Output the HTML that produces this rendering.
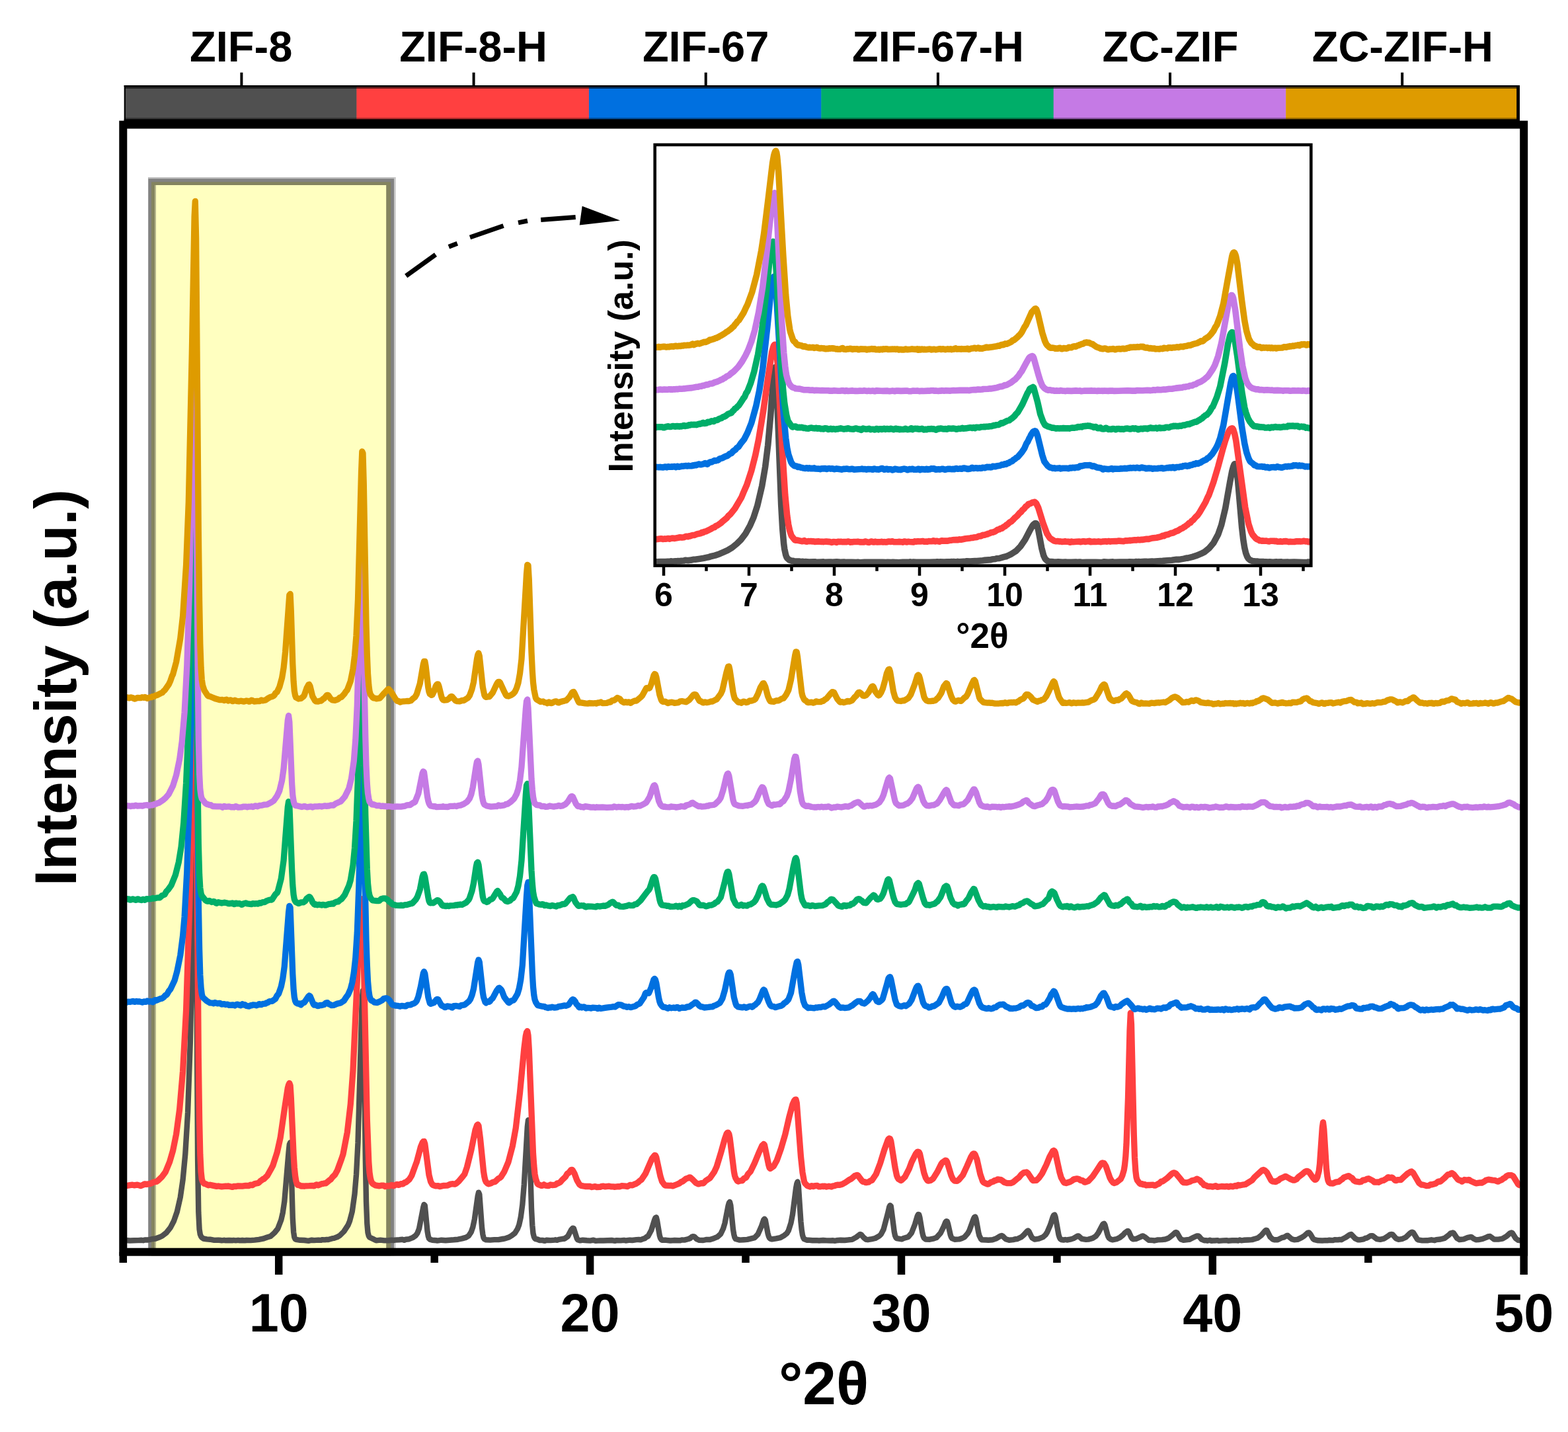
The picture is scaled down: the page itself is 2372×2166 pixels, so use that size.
<!DOCTYPE html>
<html lang="en"><head><meta charset="utf-8"><title>XRD patterns</title>
<style>html,body{margin:0;padding:0;background:#fff;width:2372px;height:2166px;overflow:hidden}svg{display:block}</style></head>
<body>
<svg width="2372" height="2166" viewBox="0 0 2372 2166" role="img" aria-label="XRD patterns of ZIF samples">
<rect x="0" y="0" width="2372" height="2166" fill="#fff"/>
<g id="highlight">
<rect x="224.2" y="268.2" width="372" height="1631" fill="#828282"/>
<rect x="596.2" y="268.2" width="2.4" height="1631" fill="#c4c4c4"/>
<rect x="224.2" y="268.2" width="374.4" height="2" fill="#c8c8c8"/>
<rect x="229" y="275.3" width="362.2" height="1624" fill="#84845F"/>
<rect x="234.4" y="280" width="349.8" height="1619" fill="#FFFFC0"/>
<rect x="234.4" y="280" width="1.6" height="1619" fill="#AEAE88"/>
</g>
<clipPath id="cm"><rect x="186.3" y="188.6" width="2114.8999999999996" height="1705.1000000000001"/></clipPath>
<g id="curves" clip-path="url(#cm)" fill="none" stroke-width="9.3" stroke-linejoin="round" stroke-linecap="butt">
<path stroke="#505050" stroke-width="8.4" d="M190.3,1876.0L196.6,1876.5L202.8,1876.2L209.1,1876.1L214.1,1875.8L216.6,1876.2L219.1,1875.4L224.1,1875.5L230.3,1874.2L235.3,1873.5L241.6,1871.2L245.3,1869.5L251.6,1864.7L257.8,1856.9L262.8,1847.3L267.8,1833.0L272.8,1810.9L276.6,1784.7L280.3,1745.5L284.1,1682.4L287.8,1577.0L290.3,1465.1L294.1,1154.2L295.3,1141.4L299.1,1753.6L300.3,1833.2L301.6,1859.4L302.8,1867.0L304.1,1870.1L305.3,1871.8L307.8,1873.5L312.8,1874.4L317.8,1874.7L324.1,1875.9L330.3,1875.8L334.1,1876.0L335.3,1876.4L339.1,1875.8L341.6,1876.3L346.6,1876.0L351.6,1876.3L352.8,1875.9L356.6,1876.4L360.3,1875.9L362.8,1876.4L366.6,1876.0L370.3,1876.4L372.8,1876.0L379.1,1876.1L385.3,1875.6L391.6,1874.8L397.8,1873.7L404.1,1871.6L409.1,1870.1L415.3,1864.7L420.3,1858.3L425.3,1845.2L427.8,1834.2L430.3,1817.2L436.6,1742.6L437.8,1731.2L439.1,1728.0L440.3,1755.2L442.8,1842.8L444.1,1863.5L445.3,1871.5L446.6,1874.2L447.8,1874.9L454.1,1875.8L460.3,1876.0L466.6,1876.8L471.6,1875.7L475.3,1876.1L481.6,1875.6L485.3,1875.9L487.8,1875.1L491.6,1875.4L494.1,1874.9L496.6,1875.0L502.8,1873.2L505.3,1872.9L510.3,1871.0L514.0,1868.9L520.3,1862.6L526.5,1853.1L529.0,1847.0L532.8,1832.5L536.5,1806.2L539.0,1776.5L541.5,1728.4L547.8,1509.3L549.0,1498.3L550.3,1552.8L552.8,1752.5L554.0,1817.6L555.3,1850.8L556.5,1864.4L557.8,1869.4L559.0,1871.5L565.3,1874.4L569.0,1876.3L575.3,1875.6L581.5,1876.4L587.8,1876.2L592.8,1875.7L595.3,1876.1L597.8,1875.6L604.0,1875.3L609.0,1874.8L611.5,1875.8L614.0,1874.7L619.0,1874.2L624.0,1872.2L629.0,1868.7L631.5,1865.1L634.0,1858.6L640.3,1826.0L641.5,1822.0L642.8,1823.4L646.5,1862.2L647.8,1869.7L649.0,1873.3L650.3,1874.6L654.0,1875.7L660.3,1876.3L661.5,1876.6L667.8,1875.7L674.0,1876.2L680.3,1875.7L686.5,1875.3L692.8,1874.7L699.0,1873.4L705.3,1871.6L709.0,1869.2L712.8,1863.4L715.3,1856.1L717.8,1844.4L722.8,1808.7L724.0,1803.6L725.3,1806.4L729.0,1856.5L730.3,1866.8L731.5,1872.2L732.8,1874.2L735.3,1875.3L741.5,1875.6L747.8,1875.1L754.0,1875.1L760.3,1874.0L764.0,1873.4L770.3,1871.2L774.0,1869.0L779.0,1865.1L782.8,1858.9L785.3,1852.4L787.8,1841.0L790.3,1822.3L792.8,1791.8L797.8,1704.2L799.0,1694.2L800.3,1703.9L804.0,1828.5L805.3,1853.3L806.5,1865.6L807.8,1870.8L809.0,1873.1L810.3,1874.1L812.8,1874.5L816.5,1876.0L821.5,1876.0L822.8,1876.7L824.0,1876.9L826.5,1875.8L832.8,1876.1L839.0,1875.6L840.3,1875.3L842.8,1875.8L845.3,1874.9L851.5,1873.8L854.0,1873.7L859.0,1870.0L864.0,1860.4L866.5,1857.6L867.8,1857.8L872.8,1873.6L874.0,1875.2L877.8,1876.4L881.5,1875.7L887.8,1876.3L892.8,1876.6L897.8,1875.7L901.5,1876.9L907.8,1876.4L912.8,1876.5L919.0,1876.3L925.3,1876.0L930.3,1876.8L932.8,1876.2L939.0,1876.4L944.0,1875.9L946.5,1876.5L952.8,1875.7L956.5,1876.0L962.8,1875.1L966.5,1875.0L969.0,1875.4L972.8,1873.8L975.3,1873.2L977.8,1871.1L980.3,1869.9L985.3,1860.8L990.3,1844.6L991.5,1841.8L992.8,1841.3L994.0,1846.0L997.8,1868.7L999.0,1872.8L1000.3,1874.9L1001.5,1875.7L1007.8,1875.8L1014.0,1876.5L1020.3,1876.0L1026.5,1876.2L1029.0,1876.3L1031.5,1875.4L1035.3,1875.6L1041.5,1874.0L1044.0,1873.0L1046.5,1870.8L1047.8,1870.2L1050.3,1870.4L1054.0,1874.2L1057.8,1875.8L1064.0,1876.0L1069.0,1874.9L1074.0,1875.0L1080.3,1872.9L1085.3,1870.9L1090.3,1866.3L1094.0,1858.5L1096.5,1850.1L1101.5,1824.2L1102.8,1819.6L1104.0,1818.0L1105.3,1823.0L1109.0,1859.6L1110.3,1867.3L1111.5,1871.9L1112.8,1874.0L1119.0,1875.6L1125.3,1875.2L1130.3,1874.9L1136.5,1873.4L1141.5,1872.2L1146.5,1867.0L1151.5,1855.8L1155.3,1844.9L1156.5,1843.7L1157.8,1845.5L1161.5,1865.3L1162.8,1870.0L1164.0,1872.5L1165.3,1873.7L1167.8,1874.4L1174.0,1873.4L1180.3,1872.2L1186.5,1868.6L1190.3,1865.5L1192.8,1861.4L1196.5,1849.8L1199.0,1836.9L1204.0,1797.6L1205.3,1790.5L1206.5,1787.5L1207.8,1793.1L1211.5,1848.1L1212.8,1860.7L1214.0,1868.2L1215.3,1872.3L1216.5,1874.2L1220.3,1875.7L1222.8,1875.6L1229.0,1876.2L1235.3,1876.1L1239.0,1876.5L1245.3,1876.0L1250.3,1876.4L1256.5,1876.5L1260.3,1876.3L1262.8,1876.8L1265.3,1876.3L1271.5,1875.8L1277.8,1876.0L1284.0,1875.3L1289.0,1874.9L1295.3,1871.4L1300.3,1867.5L1301.5,1867.0L1302.8,1867.4L1306.5,1871.9L1310.3,1874.9L1312.8,1875.2L1319.0,1874.1L1324.0,1873.0L1330.3,1869.4L1332.8,1866.9L1336.5,1859.8L1342.8,1836.2L1345.3,1825.5L1346.5,1823.2L1347.8,1824.5L1352.8,1863.2L1354.0,1868.8L1355.3,1871.8L1356.5,1873.1L1362.8,1874.2L1364.0,1874.4L1367.8,1872.7L1374.0,1870.9L1379.0,1864.8L1384.0,1852.0L1387.8,1839.2L1389.0,1837.0L1390.3,1837.2L1391.5,1841.9L1395.3,1864.6L1396.5,1869.5L1397.8,1872.5L1400.3,1874.6L1406.5,1874.7L1412.8,1873.3L1416.5,1872.1L1422.8,1865.1L1427.8,1854.8L1430.3,1848.7L1431.5,1847.2L1432.8,1847.4L1434.0,1851.0L1437.8,1868.0L1439.0,1871.4L1440.3,1873.2L1444.0,1874.7L1450.3,1874.4L1451.5,1874.3L1455.3,1873.0L1459.0,1871.3L1464.0,1865.6L1466.5,1861.0L1472.8,1843.4L1474.0,1841.1L1475.3,1840.4L1476.5,1843.7L1480.3,1864.4L1481.5,1869.2L1484.0,1874.1L1485.3,1875.2L1491.5,1875.5L1495.3,1875.8L1501.5,1875.2L1506.5,1873.6L1512.8,1869.8L1515.3,1869.0L1516.5,1869.4L1521.5,1874.2L1526.5,1875.7L1532.8,1875.1L1536.5,1874.2L1539.0,1874.0L1545.3,1871.0L1549.0,1867.6L1554.0,1862.0L1555.3,1861.4L1556.5,1862.6L1560.3,1870.5L1561.5,1872.3L1565.3,1874.6L1571.5,1873.6L1577.8,1871.1L1581.5,1867.9L1584.0,1864.1L1589.0,1852.5L1592.8,1840.6L1594.0,1838.3L1595.3,1837.4L1596.5,1840.3L1601.5,1867.8L1602.8,1871.8L1604.0,1874.0L1605.3,1875.0L1609.0,1875.6L1611.5,1875.0L1614.0,1875.5L1620.3,1874.4L1624.0,1873.1L1630.3,1869.4L1631.5,1869.4L1636.5,1873.9L1642.8,1874.9L1646.5,1874.6L1652.8,1872.9L1657.8,1869.7L1661.5,1864.8L1667.8,1852.7L1669.0,1851.2L1670.3,1850.8L1671.5,1852.9L1675.3,1867.2L1676.5,1870.6L1677.8,1872.7L1680.3,1874.5L1682.8,1875.3L1689.0,1874.2L1694.0,1871.9L1699.0,1867.9L1701.5,1864.9L1705.3,1862.2L1706.5,1862.0L1707.8,1863.8L1711.5,1871.9L1712.8,1873.5L1714.0,1874.3L1719.0,1873.8L1725.3,1870.9L1727.8,1869.6L1729.0,1869.4L1731.5,1870.8L1737.8,1875.8L1744.0,1876.1L1746.5,1876.5L1751.5,1875.4L1757.8,1875.1L1762.8,1874.5L1767.8,1872.7L1774.0,1867.9L1777.8,1864.4L1779.0,1864.0L1780.3,1864.4L1785.3,1873.1L1786.5,1874.5L1790.3,1875.9L1796.5,1875.1L1799.0,1874.9L1805.3,1871.8L1810.3,1869.5L1812.8,1869.4L1814.0,1870.3L1817.8,1874.7L1821.5,1876.2L1824.0,1876.1L1826.5,1876.7L1830.3,1875.7L1832.8,1876.9L1835.3,1876.5L1837.8,1876.5L1841.5,1876.1L1844.0,1876.9L1850.3,1876.4L1855.3,1876.2L1857.8,1876.7L1864.0,1876.3L1870.3,1876.1L1872.8,1876.6L1875.3,1875.5L1877.8,1876.3L1881.5,1875.8L1887.8,1875.5L1894.0,1875.1L1900.3,1873.3L1902.8,1872.5L1907.8,1868.7L1914.0,1861.5L1915.3,1860.7L1916.5,1861.1L1921.5,1871.0L1925.3,1874.5L1927.8,1875.3L1932.8,1875.2L1939.0,1872.2L1942.8,1871.3L1946.5,1869.0L1947.8,1868.8L1954.0,1874.1L1957.8,1875.2L1962.8,1874.9L1969.0,1871.9L1972.8,1869.5L1977.8,1865.0L1979.0,1864.4L1980.3,1864.5L1982.8,1867.5L1986.5,1873.9L1987.8,1874.8L1994.0,1876.3L2000.3,1876.5L2005.3,1876.1L2007.8,1876.4L2010.3,1875.8L2016.5,1876.1L2019.0,1875.2L2024.0,1875.4L2026.5,1874.9L2029.0,1875.2L2035.3,1871.9L2041.5,1867.8L2044.0,1867.0L2050.3,1873.5L2054.1,1875.2L2056.6,1875.4L2062.8,1874.3L2065.3,1872.9L2067.8,1872.5L2072.8,1869.5L2075.3,1869.1L2076.6,1869.4L2082.8,1874.1L2087.8,1874.8L2094.1,1873.3L2100.3,1869.3L2102.8,1867.3L2105.3,1866.9L2106.6,1867.3L2111.6,1873.1L2115.3,1874.8L2121.6,1873.8L2126.6,1871.5L2132.8,1865.5L2135.3,1863.9L2136.6,1863.7L2137.8,1864.3L2144.1,1874.5L2145.3,1875.3L2151.6,1876.4L2157.8,1876.1L2160.3,1876.2L2165.3,1875.3L2170.3,1876.2L2172.8,1875.2L2179.1,1874.5L2185.3,1872.9L2191.6,1868.2L2194.1,1865.6L2197.8,1864.5L2199.1,1865.2L2204.1,1872.9L2207.8,1875.0L2214.1,1874.3L2220.3,1871.8L2225.3,1871.0L2226.6,1871.5L2229.1,1873.5L2232.8,1875.3L2236.6,1875.1L2242.8,1873.9L2249.1,1871.4L2251.6,1870.1L2254.1,1870.0L2260.3,1874.6L2266.6,1874.6L2272.8,1873.7L2279.1,1869.9L2284.1,1865.4L2286.6,1864.5L2287.8,1865.1L2292.8,1873.1L2296.6,1875.8L2300.3,1876.4"/>
<path stroke="#FF4040" d="M190.3,1793.8L196.6,1792.6L200.3,1792.2L202.8,1792.8L207.8,1792.1L212.8,1793.6L216.6,1792.2L217.8,1791.2L219.1,1790.9L221.6,1791.4L227.8,1790.3L232.8,1788.0L236.6,1787.3L239.1,1785.6L245.3,1779.6L250.3,1772.7L256.6,1757.5L261.6,1740.4L266.6,1715.7L271.6,1678.4L276.6,1620.3L281.6,1528.0L286.6,1372.2L292.8,1076.7L294.1,1040.1L295.3,1041.0L296.6,1132.5L300.3,1599.9L301.6,1693.2L302.8,1746.3L304.1,1772.5L305.3,1783.4L306.6,1787.2L307.8,1789.3L309.1,1790.4L310.3,1790.5L315.3,1792.8L317.8,1792.2L324.1,1793.6L327.8,1794.4L330.3,1794.0L335.3,1794.8L341.6,1794.1L344.1,1794.3L345.3,1793.9L351.6,1795.4L354.1,1794.3L356.6,1794.6L360.3,1793.8L366.6,1794.2L371.6,1793.4L376.6,1793.5L379.1,1792.1L380.3,1792.6L381.6,1792.6L385.3,1790.5L390.3,1789.5L391.6,1788.9L394.1,1786.3L395.3,1785.6L397.8,1783.5L399.1,1783.5L402.8,1779.7L404.1,1778.8L410.3,1767.7L412.8,1763.0L419.1,1743.4L424.1,1721.1L430.3,1678.2L435.3,1645.7L436.6,1641.0L437.8,1638.5L439.1,1641.9L440.3,1660.9L444.1,1746.4L445.3,1765.9L446.6,1778.5L447.8,1786.0L449.1,1790.4L450.3,1792.3L452.8,1792.6L455.3,1794.0L457.8,1793.8L460.3,1794.3L462.8,1793.8L467.8,1793.7L472.8,1793.3L474.1,1793.9L475.3,1793.7L477.8,1792.2L479.1,1791.9L481.6,1792.8L486.6,1790.7L489.1,1790.4L490.3,1789.8L492.8,1789.8L499.1,1784.7L500.3,1784.1L502.8,1780.6L506.6,1776.9L510.3,1770.3L516.5,1753.4L519.0,1745.9L525.3,1712.9L530.3,1670.0L534.0,1619.4L540.3,1483.5L544.0,1391.9L545.3,1370.8L546.5,1359.6L547.8,1361.4L549.0,1391.0L555.3,1693.2L557.8,1757.6L559.0,1773.5L560.3,1782.0L561.5,1786.4L562.8,1789.2L564.0,1790.5L567.8,1792.9L574.0,1793.8L576.5,1793.2L580.3,1793.2L582.8,1794.6L586.5,1793.6L589.0,1793.8L592.8,1792.3L595.3,1793.7L600.3,1791.4L601.5,1791.6L602.8,1792.3L604.0,1792.2L606.5,1790.6L609.0,1791.0L610.3,1790.3L611.5,1789.0L612.8,1788.3L614.0,1788.3L619.0,1784.2L622.8,1778.1L629.0,1761.0L630.3,1757.7L636.5,1734.5L639.0,1728.4L640.3,1726.7L641.5,1726.5L642.8,1730.3L649.0,1777.3L651.5,1787.2L654.0,1791.7L655.3,1792.6L659.0,1793.9L662.8,1793.6L665.3,1794.6L671.5,1793.3L676.5,1793.2L681.5,1791.1L685.3,1790.7L687.8,1791.2L690.3,1790.0L694.0,1786.8L700.3,1779.3L702.8,1776.0L706.5,1765.2L712.8,1739.9L719.0,1709.3L721.5,1702.2L722.8,1700.8L724.0,1702.8L726.5,1722.1L731.5,1771.7L732.8,1779.9L734.0,1785.0L735.3,1787.7L737.8,1790.3L739.0,1790.8L742.8,1789.7L745.3,1788.2L749.0,1787.4L754.0,1782.6L756.5,1781.4L757.8,1780.2L762.8,1772.2L769.0,1757.6L775.3,1733.6L780.3,1706.0L786.5,1652.6L792.8,1586.7L795.3,1566.7L796.5,1561.5L797.8,1559.7L799.0,1566.1L800.3,1587.2L806.5,1744.6L807.8,1763.3L809.0,1775.5L810.3,1782.5L812.8,1790.1L814.0,1791.4L819.0,1793.4L820.3,1793.4L822.8,1791.8L825.3,1793.2L829.0,1793.7L830.3,1793.4L832.8,1792.0L835.3,1792.6L840.3,1792.2L842.8,1789.9L844.0,1790.1L847.8,1787.9L850.3,1784.8L855.3,1780.2L857.8,1775.8L859.0,1774.6L860.3,1774.2L864.0,1769.5L865.3,1769.3L866.5,1770.4L869.0,1774.9L872.8,1785.1L876.5,1791.5L879.0,1793.4L885.3,1794.5L891.5,1794.3L895.3,1795.5L900.3,1794.6L902.8,1795.5L907.8,1795.4L910.3,1794.3L912.8,1794.1L915.3,1794.9L921.5,1794.2L924.0,1794.8L927.8,1794.8L929.0,1795.3L935.3,1794.6L937.8,1794.8L940.3,1793.7L946.5,1794.2L949.0,1794.6L952.8,1792.6L954.0,1792.3L956.5,1792.9L960.3,1791.0L961.5,1790.9L965.3,1788.4L967.8,1786.0L970.3,1784.3L976.5,1775.2L982.8,1760.5L986.5,1752.1L990.3,1747.5L991.5,1747.6L992.8,1750.5L999.0,1779.2L1001.5,1787.1L1005.3,1792.4L1006.5,1793.0L1012.8,1793.3L1015.3,1793.2L1017.8,1793.9L1024.0,1791.5L1027.8,1789.9L1030.3,1787.9L1032.8,1786.9L1037.8,1782.9L1041.5,1781.8L1042.8,1781.0L1044.0,1780.9L1047.8,1784.1L1052.8,1789.3L1056.5,1790.9L1061.5,1789.6L1064.0,1789.9L1067.8,1785.9L1074.0,1781.9L1080.3,1772.9L1084.0,1765.1L1090.3,1744.4L1096.5,1722.2L1099.0,1715.2L1100.3,1713.3L1101.5,1713.1L1102.8,1715.3L1104.0,1720.9L1110.3,1771.8L1111.5,1778.2L1112.8,1781.9L1115.3,1786.2L1116.5,1787.0L1120.3,1785.9L1122.8,1785.8L1125.3,1782.6L1126.5,1781.8L1127.8,1781.8L1129.0,1780.6L1131.5,1776.0L1135.3,1772.1L1141.5,1759.2L1147.8,1743.9L1152.8,1732.9L1155.3,1730.5L1156.5,1732.0L1162.8,1762.2L1164.0,1766.3L1165.3,1767.5L1170.3,1763.9L1175.3,1754.9L1181.5,1737.4L1187.8,1715.9L1194.0,1688.9L1199.0,1670.4L1201.5,1664.8L1202.8,1663.4L1204.0,1663.2L1205.3,1668.4L1211.5,1749.8L1214.0,1773.3L1216.5,1787.0L1217.8,1790.0L1221.5,1793.6L1225.3,1795.0L1227.8,1793.6L1230.3,1794.5L1232.8,1793.7L1236.5,1793.4L1239.0,1794.9L1241.5,1794.8L1244.0,1794.2L1245.3,1794.6L1247.8,1794.1L1250.3,1795.0L1254.0,1794.2L1257.8,1795.0L1260.3,1793.8L1262.8,1793.6L1264.0,1792.9L1267.8,1792.1L1270.3,1792.3L1274.0,1791.3L1279.0,1788.5L1285.3,1784.2L1287.8,1783.0L1292.8,1778.7L1296.5,1777.3L1297.8,1777.9L1304.0,1786.1L1305.3,1787.3L1307.8,1787.6L1309.0,1788.4L1310.3,1788.7L1312.8,1788.0L1314.0,1788.2L1316.5,1786.2L1319.0,1785.3L1325.3,1776.0L1331.5,1759.7L1337.8,1739.1L1342.8,1725.2L1344.0,1722.9L1345.3,1721.9L1346.5,1722.6L1347.8,1726.1L1354.0,1765.7L1356.5,1777.9L1357.8,1781.2L1359.0,1783.2L1362.8,1785.5L1364.0,1784.9L1369.0,1780.1L1375.3,1767.8L1379.0,1757.9L1385.3,1745.2L1387.8,1742.3L1389.0,1742.1L1390.3,1742.7L1391.5,1745.2L1397.8,1774.0L1400.3,1781.3L1402.8,1785.4L1404.0,1786.2L1407.8,1785.4L1411.5,1782.9L1417.8,1772.8L1424.0,1760.4L1425.3,1758.6L1430.3,1755.2L1431.5,1755.5L1432.8,1757.6L1439.0,1778.1L1441.5,1783.5L1444.0,1786.1L1447.8,1786.3L1450.3,1784.7L1456.5,1777.5L1462.8,1763.9L1469.0,1749.6L1471.5,1745.6L1472.8,1745.0L1474.0,1745.2L1475.3,1746.8L1477.8,1753.3L1482.8,1775.8L1486.5,1786.6L1487.8,1788.4L1490.3,1789.7L1494.0,1791.1L1495.3,1790.9L1499.0,1788.3L1502.8,1787.1L1504.0,1785.9L1505.3,1785.4L1506.5,1785.6L1509.0,1784.0L1510.3,1783.9L1511.5,1784.4L1514.0,1784.5L1517.8,1787.0L1519.0,1788.3L1524.0,1789.7L1529.0,1789.6L1532.8,1788.1L1539.0,1782.7L1541.5,1780.9L1545.3,1776.2L1549.0,1773.5L1552.8,1773.0L1555.3,1775.0L1561.5,1784.3L1562.8,1785.5L1567.8,1785.3L1571.5,1781.9L1576.5,1774.9L1582.8,1762.0L1587.8,1749.8L1592.8,1740.9L1594.0,1740.3L1595.3,1741.1L1596.5,1743.7L1602.8,1772.6L1605.3,1781.3L1609.0,1787.8L1610.3,1789.0L1612.8,1789.5L1619.0,1787.5L1622.8,1785.3L1624.0,1783.9L1625.3,1783.5L1626.5,1783.6L1629.0,1782.8L1632.8,1783.8L1634.0,1785.0L1635.3,1785.6L1636.5,1785.3L1637.8,1785.5L1640.3,1787.9L1641.5,1788.2L1646.5,1786.3L1652.8,1779.6L1659.0,1770.5L1665.3,1760.9L1666.5,1759.4L1667.8,1759.0L1670.3,1759.6L1672.8,1763.6L1679.0,1781.5L1681.5,1786.0L1684.0,1788.8L1685.3,1789.5L1689.0,1788.3L1695.3,1783.4L1697.8,1778.3L1700.3,1769.7L1701.5,1762.1L1702.8,1749.6L1704.0,1730.3L1706.5,1660.9L1709.0,1559.5L1710.3,1532.2L1711.5,1549.0L1715.3,1716.1L1716.5,1750.7L1717.8,1770.7L1719.0,1780.7L1720.3,1785.1L1724.0,1789.9L1725.3,1790.9L1727.8,1790.6L1729.0,1791.6L1730.3,1791.8L1731.5,1791.5L1734.0,1792.8L1736.5,1792.4L1739.0,1792.5L1744.0,1792.1L1746.5,1793.2L1747.8,1793.1L1751.5,1790.9L1752.8,1790.6L1754.0,1789.8L1756.5,1787.2L1759.0,1786.8L1765.3,1782.3L1771.5,1776.5L1772.8,1775.2L1775.3,1774.0L1776.5,1774.0L1779.0,1775.2L1784.0,1781.2L1789.0,1787.5L1790.3,1788.5L1795.3,1788.9L1800.3,1787.4L1802.8,1785.8L1807.8,1784.7L1810.3,1783.2L1811.5,1783.4L1815.3,1785.6L1817.8,1788.9L1819.0,1789.3L1821.5,1792.6L1824.0,1792.9L1826.5,1794.3L1829.0,1794.5L1831.5,1794.3L1834.0,1795.2L1839.0,1793.7L1841.5,1795.4L1847.8,1794.5L1854.0,1794.9L1855.3,1794.3L1856.5,1794.3L1857.8,1795.0L1859.0,1795.0L1861.5,1794.2L1865.3,1794.8L1867.8,1793.6L1869.0,1793.5L1870.3,1794.2L1871.5,1793.9L1872.8,1792.5L1874.0,1792.4L1875.3,1793.0L1881.5,1791.8L1884.0,1791.5L1890.3,1787.5L1894.0,1785.3L1897.8,1780.6L1904.0,1775.0L1909.0,1770.3L1911.5,1769.5L1912.8,1770.0L1916.5,1773.4L1922.8,1785.1L1924.0,1786.4L1925.3,1787.0L1927.8,1786.9L1929.0,1787.5L1930.3,1787.4L1932.8,1785.7L1934.0,1785.4L1936.5,1783.0L1942.8,1780.2L1944.0,1779.5L1945.3,1779.5L1951.5,1783.1L1956.5,1785.2L1957.8,1785.2L1961.5,1783.5L1964.0,1780.4L1970.3,1775.7L1974.0,1772.4L1976.5,1771.5L1977.8,1771.5L1980.3,1772.8L1986.5,1781.9L1989.0,1784.3L1990.3,1784.3L1991.5,1783.0L1992.8,1780.5L1995.3,1770.8L1996.5,1760.6L2000.3,1705.7L2001.5,1697.7L2002.8,1707.8L2006.5,1767.5L2007.8,1778.8L2009.0,1785.4L2010.3,1788.4L2012.8,1789.9L2016.5,1790.0L2020.3,1788.2L2025.3,1787.4L2029.0,1784.4L2030.3,1783.8L2032.8,1781.1L2039.0,1778.8L2040.3,1778.7L2041.5,1779.3L2042.8,1780.7L2045.3,1781.8L2047.8,1785.3L2050.3,1786.9L2056.6,1787.9L2059.1,1787.5L2061.6,1785.3L2062.8,1784.8L2064.1,1785.2L2065.3,1784.8L2067.8,1783.3L2070.3,1782.7L2076.6,1785.8L2079.1,1788.2L2084.1,1788.0L2085.3,1788.3L2090.3,1785.8L2092.8,1785.5L2097.8,1782.5L2099.1,1781.1L2100.3,1780.6L2102.8,1781.5L2105.3,1780.9L2106.6,1781.5L2110.3,1785.2L2111.6,1785.6L2112.8,1785.4L2114.1,1784.6L2119.1,1784.5L2125.3,1778.7L2129.1,1775.3L2134.1,1772.3L2135.3,1772.0L2137.8,1774.1L2144.1,1784.9L2146.6,1789.3L2150.3,1792.1L2152.8,1792.1L2157.8,1793.6L2161.6,1793.3L2164.1,1791.7L2165.3,1791.9L2171.6,1790.3L2175.3,1787.4L2176.6,1787.0L2177.8,1787.4L2179.1,1787.0L2185.3,1781.8L2190.3,1776.6L2192.8,1776.3L2195.3,1774.7L2196.6,1774.4L2199.1,1776.2L2205.3,1783.9L2206.6,1784.9L2209.1,1785.4L2211.6,1787.1L2215.3,1784.5L2220.3,1785.2L2221.6,1784.5L2222.8,1784.7L2224.1,1785.9L2230.3,1788.7L2232.8,1789.9L2239.1,1788.8L2241.6,1789.0L2245.3,1787.1L2247.8,1785.2L2251.6,1784.1L2257.8,1785.2L2261.6,1785.4L2265.3,1787.0L2266.6,1787.0L2269.1,1785.4L2271.6,1784.7L2274.1,1782.6L2276.6,1781.3L2279.1,1778.9L2281.6,1777.7L2286.6,1777.7L2289.1,1779.1L2295.3,1789.1L2296.6,1791.2L2297.8,1792.2L2300.3,1792.9"/>
<path stroke="#0070E0" d="M190.3,1516.0L191.6,1516.1L194.1,1515.2L196.6,1515.5L201.6,1514.3L202.8,1515.1L204.1,1515.3L206.6,1514.5L209.1,1515.2L210.3,1514.7L215.3,1516.1L217.8,1514.8L220.3,1515.4L222.8,1513.9L225.3,1515.2L227.8,1514.5L229.1,1514.7L230.3,1515.6L231.6,1515.8L234.1,1512.9L235.3,1512.7L236.6,1513.3L242.8,1510.6L245.3,1510.1L247.8,1508.3L250.3,1505.4L251.6,1505.0L252.8,1503.8L255.3,1499.3L257.8,1496.3L264.1,1482.9L267.8,1469.6L272.8,1444.8L276.6,1415.4L279.1,1387.1L282.8,1318.7L286.6,1200.4L290.3,994.2L292.8,817.0L294.1,775.9L295.3,821.2L300.3,1363.7L301.6,1435.0L302.8,1474.7L304.1,1494.1L305.3,1503.8L306.6,1508.4L312.8,1514.0L317.8,1516.9L321.6,1517.1L322.8,1517.8L325.3,1516.5L329.1,1517.9L331.6,1517.4L332.8,1517.5L335.3,1519.1L339.1,1518.6L341.6,1519.5L344.1,1519.1L346.6,1520.4L352.8,1520.0L355.3,1521.0L357.8,1519.3L359.1,1519.2L364.1,1520.8L366.6,1518.8L367.8,1519.7L369.1,1520.0L370.3,1519.6L372.8,1521.4L376.6,1522.1L379.1,1520.7L380.3,1520.9L382.8,1519.9L385.3,1520.1L387.8,1520.8L390.3,1519.9L391.6,1518.9L392.8,1518.7L394.1,1519.6L395.3,1519.7L397.8,1518.4L401.6,1518.1L402.8,1517.1L405.3,1516.5L406.6,1515.2L407.8,1514.6L411.6,1514.3L416.6,1510.9L419.1,1505.9L421.6,1502.9L425.3,1492.3L427.8,1480.1L430.3,1461.7L436.6,1379.9L437.8,1370.4L439.1,1372.7L442.8,1473.3L444.1,1496.3L445.3,1508.3L446.6,1514.0L447.8,1516.5L450.3,1518.1L452.8,1517.9L454.1,1519.3L455.3,1519.9L457.8,1517.2L460.3,1516.3L466.6,1507.2L467.8,1506.1L469.1,1506.8L474.1,1518.7L475.3,1520.1L477.8,1520.0L480.3,1521.5L482.8,1521.3L484.1,1520.4L486.6,1520.5L490.3,1519.5L492.8,1517.2L494.1,1516.6L495.3,1516.7L497.8,1519.0L499.1,1519.2L501.6,1520.7L505.3,1520.3L510.3,1518.1L515.3,1517.0L520.3,1513.6L524.0,1507.9L526.5,1504.7L530.3,1495.9L532.8,1486.1L535.3,1471.4L537.8,1448.7L540.3,1410.3L542.8,1342.4L546.5,1186.6L547.8,1162.9L549.0,1180.3L554.0,1421.6L555.3,1459.3L556.5,1484.1L557.8,1498.6L559.0,1506.6L560.3,1510.7L561.5,1512.9L562.8,1514.0L564.0,1514.0L566.5,1516.2L570.3,1516.6L574.0,1515.1L577.8,1513.2L580.3,1510.6L584.0,1509.8L586.5,1510.6L589.0,1512.7L592.8,1518.7L594.0,1519.9L597.8,1521.0L601.5,1521.3L605.3,1522.3L607.8,1521.3L612.8,1522.0L614.0,1521.8L616.5,1520.1L621.5,1519.8L624.0,1518.4L626.5,1517.8L629.0,1515.7L630.3,1514.0L632.8,1507.6L636.5,1492.1L640.3,1472.3L641.5,1469.7L642.8,1472.8L647.8,1508.2L650.3,1517.2L651.5,1518.3L656.5,1516.6L660.3,1511.8L661.5,1511.4L662.8,1511.9L667.8,1520.7L671.5,1522.5L672.8,1523.5L674.0,1523.6L676.5,1521.8L681.5,1522.7L682.8,1523.8L684.0,1524.1L686.5,1521.6L690.3,1521.5L695.3,1522.4L697.8,1520.6L702.8,1519.8L709.0,1514.9L711.5,1511.5L714.0,1505.3L716.5,1495.5L722.8,1455.3L724.0,1451.8L725.3,1455.4L730.3,1501.3L731.5,1508.3L734.0,1515.8L735.3,1516.9L737.8,1514.9L740.3,1515.3L741.5,1514.1L742.8,1512.0L745.3,1509.9L751.5,1498.3L754.0,1494.9L755.3,1494.2L757.8,1496.4L759.0,1498.3L762.8,1508.1L769.0,1516.3L770.3,1516.7L774.0,1513.7L776.5,1513.1L777.8,1511.8L782.8,1503.4L785.3,1495.1L787.8,1481.7L790.3,1459.7L796.5,1355.8L797.8,1339.1L799.0,1334.3L800.3,1347.7L805.3,1471.6L806.5,1492.2L807.8,1505.2L809.0,1511.8L810.3,1515.5L812.8,1519.7L814.0,1520.8L820.3,1522.2L824.0,1522.7L825.3,1523.6L829.0,1524.6L831.5,1523.8L832.8,1524.0L835.3,1523.1L839.0,1524.2L842.8,1523.6L845.3,1522.3L847.8,1522.2L854.0,1520.9L856.5,1521.3L860.3,1519.7L865.3,1512.5L866.5,1511.7L867.8,1512.1L870.3,1515.0L871.5,1517.9L872.8,1519.6L874.0,1520.4L875.3,1522.7L876.5,1523.8L877.8,1522.9L879.0,1523.0L880.3,1524.0L882.8,1523.0L884.0,1523.1L886.5,1525.1L889.0,1524.3L892.8,1524.6L894.0,1525.1L896.5,1524.1L902.8,1524.6L904.0,1525.6L905.3,1525.4L906.5,1524.3L909.0,1525.5L915.3,1524.4L919.0,1523.8L925.3,1523.1L927.8,1522.7L930.3,1523.0L935.3,1519.7L939.0,1519.8L944.0,1522.2L946.5,1522.3L947.8,1523.2L949.0,1523.4L950.3,1522.8L951.5,1522.7L954.0,1523.7L960.3,1522.1L961.5,1521.7L964.0,1519.4L966.5,1518.6L967.8,1517.8L974.0,1508.7L976.5,1502.3L977.8,1501.4L981.5,1502.3L985.3,1493.2L989.0,1481.5L990.3,1480.4L991.5,1482.2L992.8,1486.9L996.5,1509.3L997.8,1514.9L999.0,1518.3L1001.5,1521.8L1002.8,1522.9L1004.0,1523.4L1006.5,1523.6L1010.3,1525.4L1012.8,1523.8L1015.3,1524.8L1019.0,1524.0L1021.5,1524.7L1024.0,1523.5L1025.3,1523.6L1027.8,1525.5L1031.5,1524.0L1036.5,1524.4L1037.8,1524.0L1039.0,1523.0L1040.3,1522.7L1041.5,1523.0L1042.8,1522.8L1047.8,1519.1L1050.3,1517.5L1051.5,1516.2L1052.8,1516.1L1055.3,1518.3L1057.8,1521.3L1060.3,1522.8L1062.8,1522.9L1065.3,1524.0L1071.5,1523.4L1075.3,1522.8L1077.8,1522.9L1080.3,1521.2L1082.8,1520.6L1089.0,1517.0L1092.8,1510.4L1096.5,1497.6L1101.5,1473.8L1102.8,1470.8L1104.0,1470.8L1105.3,1474.4L1110.3,1508.5L1112.8,1517.7L1114.0,1520.8L1116.5,1522.8L1122.8,1523.8L1124.0,1523.8L1125.3,1523.0L1126.5,1523.1L1129.0,1524.4L1132.8,1522.6L1135.3,1522.1L1136.5,1522.3L1137.8,1523.2L1139.0,1522.5L1140.3,1521.0L1142.8,1519.6L1145.3,1516.9L1146.5,1516.2L1149.0,1511.4L1154.0,1498.6L1155.3,1497.0L1156.5,1497.8L1162.8,1515.2L1165.3,1520.4L1166.5,1521.7L1167.8,1522.2L1170.3,1522.4L1172.8,1523.7L1179.0,1521.9L1181.5,1521.4L1184.0,1520.0L1186.5,1517.2L1189.0,1515.7L1192.8,1511.7L1196.5,1501.9L1202.8,1466.5L1205.3,1455.2L1206.5,1454.3L1207.8,1459.5L1212.8,1501.3L1215.3,1514.3L1217.8,1520.9L1222.8,1524.7L1225.3,1524.2L1231.5,1524.8L1232.8,1524.6L1234.0,1523.9L1236.5,1524.2L1239.0,1523.3L1241.5,1523.6L1245.3,1522.4L1247.8,1522.9L1254.0,1519.5L1260.3,1514.5L1261.5,1514.1L1262.8,1515.0L1269.0,1522.8L1271.5,1524.3L1275.3,1523.9L1277.8,1524.6L1284.0,1523.9L1287.8,1521.5L1289.0,1521.1L1294.0,1516.9L1297.8,1514.4L1300.3,1514.3L1301.5,1514.6L1304.0,1517.0L1307.8,1518.0L1312.8,1513.8L1316.5,1509.2L1319.0,1505.0L1320.3,1503.8L1321.5,1504.5L1326.5,1514.3L1329.0,1515.6L1330.3,1515.5L1334.0,1512.4L1335.3,1510.7L1341.5,1489.2L1344.0,1479.9L1345.3,1478.1L1346.5,1477.7L1347.8,1481.2L1354.0,1511.9L1356.5,1519.4L1360.3,1521.7L1364.0,1522.4L1367.8,1520.6L1370.3,1521.7L1375.3,1518.2L1379.0,1512.5L1385.3,1495.9L1386.5,1493.2L1387.8,1491.6L1389.0,1491.3L1390.3,1493.4L1396.5,1516.6L1399.0,1520.9L1400.3,1521.7L1402.8,1522.3L1405.3,1524.1L1407.8,1523.5L1410.3,1522.0L1412.8,1521.8L1419.0,1517.6L1420.3,1516.7L1425.3,1506.8L1429.0,1498.0L1430.3,1496.3L1431.5,1495.6L1432.8,1495.9L1434.0,1498.4L1439.0,1516.2L1440.3,1519.1L1442.8,1522.1L1445.3,1523.3L1447.8,1522.2L1451.5,1523.1L1452.8,1523.0L1456.5,1521.3L1459.0,1519.1L1461.5,1518.4L1462.8,1516.9L1469.0,1503.4L1471.5,1498.6L1472.8,1497.4L1474.0,1497.1L1475.3,1498.1L1481.5,1517.5L1484.0,1522.0L1486.5,1524.0L1492.8,1525.7L1495.3,1524.7L1499.0,1525.9L1502.8,1524.9L1504.0,1523.8L1506.5,1523.7L1509.0,1521.4L1512.8,1519.4L1515.3,1519.7L1516.5,1519.1L1517.8,1519.1L1521.5,1522.3L1525.3,1523.8L1527.8,1525.6L1530.3,1525.2L1531.5,1525.7L1534.0,1525.1L1536.5,1525.1L1541.5,1523.6L1545.3,1520.9L1547.8,1521.2L1552.8,1517.3L1555.3,1516.5L1557.8,1517.6L1560.3,1521.2L1561.5,1521.7L1562.8,1521.7L1566.5,1524.3L1567.8,1524.7L1571.5,1524.1L1574.0,1522.6L1576.5,1522.8L1579.0,1519.9L1581.5,1519.5L1582.8,1518.1L1587.8,1510.0L1590.3,1504.1L1591.5,1502.9L1594.0,1499.1L1595.3,1500.0L1597.8,1505.5L1602.8,1519.3L1604.0,1521.8L1605.3,1523.2L1611.5,1525.3L1615.3,1526.2L1617.8,1525.8L1620.3,1526.3L1624.0,1525.8L1626.5,1526.3L1631.5,1525.4L1634.0,1526.0L1635.3,1525.3L1637.8,1525.8L1640.3,1524.7L1641.5,1524.8L1644.0,1523.5L1645.3,1524.1L1650.3,1522.9L1656.5,1520.5L1660.3,1516.4L1665.3,1506.3L1669.0,1502.1L1670.3,1502.1L1674.0,1508.9L1677.8,1519.7L1679.0,1522.2L1680.3,1522.8L1682.8,1523.1L1685.3,1524.2L1687.8,1522.4L1690.3,1523.2L1694.0,1521.7L1696.5,1519.1L1702.8,1514.9L1705.3,1513.8L1711.5,1520.7L1715.3,1525.6L1716.5,1526.5L1721.5,1525.0L1722.8,1525.2L1724.0,1526.1L1726.5,1526.0L1729.0,1526.8L1731.5,1526.0L1734.0,1527.3L1737.8,1526.0L1739.0,1525.2L1740.3,1525.4L1741.5,1526.7L1742.8,1526.7L1744.0,1526.2L1746.5,1526.9L1750.3,1525.2L1754.0,1525.3L1756.5,1526.0L1760.3,1523.9L1761.5,1523.8L1762.8,1524.6L1764.0,1524.5L1765.3,1523.3L1767.8,1522.8L1770.3,1519.8L1771.5,1518.9L1772.8,1518.8L1779.0,1516.2L1780.3,1516.5L1782.8,1520.8L1785.3,1522.3L1786.5,1523.8L1787.8,1524.3L1790.3,1523.8L1795.3,1523.9L1797.8,1522.7L1799.0,1522.8L1801.5,1521.7L1806.5,1523.8L1809.0,1525.8L1811.5,1525.5L1814.0,1526.3L1816.5,1525.5L1819.0,1527.2L1822.8,1527.0L1826.5,1525.8L1827.8,1525.8L1830.3,1527.6L1832.8,1526.9L1834.0,1527.4L1839.0,1527.1L1840.3,1527.4L1842.8,1526.9L1846.5,1527.5L1849.0,1526.5L1851.5,1528.0L1854.0,1526.0L1857.8,1527.3L1860.3,1526.9L1862.8,1527.7L1865.3,1527.2L1866.5,1526.6L1869.0,1526.9L1871.5,1525.7L1874.0,1527.0L1875.3,1526.2L1877.8,1526.3L1879.0,1525.7L1882.8,1526.5L1886.5,1525.5L1890.3,1527.0L1892.8,1524.1L1896.5,1523.7L1899.0,1524.0L1901.5,1522.6L1906.5,1517.2L1909.0,1515.1L1911.5,1512.1L1912.8,1511.6L1914.0,1511.8L1920.3,1520.1L1924.0,1524.3L1929.0,1526.2L1932.8,1525.3L1935.3,1523.6L1940.3,1524.7L1942.8,1523.1L1949.0,1522.3L1951.5,1522.2L1954.0,1523.5L1955.3,1523.6L1957.8,1525.0L1964.0,1524.9L1969.0,1523.7L1974.0,1519.3L1979.0,1517.3L1980.3,1517.7L1984.0,1521.0L1986.5,1523.8L1987.8,1524.2L1990.3,1526.9L1991.5,1527.6L1995.3,1526.9L1999.0,1528.0L2001.5,1525.8L2002.8,1525.8L2005.3,1527.0L2007.8,1525.6L2009.0,1526.1L2010.3,1527.1L2011.5,1527.2L2012.8,1525.9L2014.0,1525.4L2015.3,1526.1L2017.8,1526.0L2020.3,1527.4L2022.8,1526.6L2024.0,1526.8L2026.5,1525.6L2029.0,1526.4L2035.3,1523.3L2039.0,1521.9L2041.5,1521.8L2045.3,1520.5L2047.8,1520.9L2049.1,1521.5L2051.6,1525.2L2057.8,1526.2L2060.3,1526.2L2062.8,1524.3L2065.3,1524.8L2067.8,1523.8L2070.3,1524.1L2072.8,1522.4L2076.6,1522.1L2079.1,1523.6L2081.6,1523.9L2085.3,1525.6L2090.3,1525.3L2096.6,1522.3L2099.1,1521.4L2100.3,1521.4L2101.6,1520.6L2102.8,1518.9L2104.1,1518.5L2105.3,1519.2L2107.8,1519.7L2110.3,1522.0L2111.6,1522.2L2112.8,1523.0L2114.1,1524.9L2115.3,1525.9L2117.8,1524.9L2124.1,1524.6L2126.6,1523.3L2127.8,1523.1L2130.3,1520.9L2134.1,1519.8L2137.8,1520.6L2141.6,1523.6L2142.8,1524.0L2147.8,1527.6L2149.1,1528.0L2151.6,1527.2L2152.8,1527.2L2154.1,1528.1L2155.3,1528.3L2157.8,1527.0L2160.3,1527.8L2165.3,1527.0L2167.8,1527.4L2172.8,1526.6L2176.6,1526.4L2177.8,1526.8L2180.3,1526.1L2182.8,1526.1L2185.3,1524.3L2191.6,1521.8L2194.1,1519.7L2196.6,1520.2L2197.8,1519.8L2201.6,1522.6L2204.1,1525.9L2206.6,1525.2L2210.3,1526.3L2212.8,1526.2L2219.1,1528.1L2220.3,1528.3L2222.8,1527.1L2226.6,1528.0L2230.3,1527.6L2232.8,1526.8L2236.6,1527.6L2239.1,1526.7L2244.1,1528.2L2245.3,1527.7L2250.3,1528.5L2252.8,1527.3L2254.1,1527.8L2255.3,1527.6L2256.6,1526.5L2257.8,1526.1L2260.3,1526.8L2266.6,1526.2L2269.1,1526.1L2275.3,1523.9L2277.8,1520.8L2282.8,1519.3L2284.1,1518.5L2285.3,1518.8L2289.1,1523.3L2291.6,1524.6L2294.1,1525.1L2296.6,1527.3L2300.3,1527.1"/>
<path stroke="#00AE69" d="M190.3,1359.4L192.8,1360.1L194.1,1359.8L195.3,1360.1L196.6,1361.2L197.8,1361.1L200.3,1359.8L205.3,1361.3L206.6,1361.2L207.8,1359.9L209.1,1359.8L210.3,1360.7L214.1,1361.6L216.6,1360.1L219.1,1361.3L221.6,1359.7L225.3,1359.9L229.1,1359.4L231.6,1358.5L232.8,1359.0L239.1,1357.8L241.6,1357.9L245.3,1354.5L249.1,1352.9L251.6,1348.5L254.1,1345.9L259.1,1339.0L265.3,1323.8L270.3,1304.1L274.1,1281.0L277.8,1244.2L281.6,1184.3L284.1,1123.4L287.8,971.4L292.8,665.7L294.1,643.8L295.3,722.0L299.1,1189.6L300.3,1276.3L301.6,1322.3L302.8,1343.1L304.1,1351.6L305.3,1355.0L310.3,1361.2L312.8,1363.0L314.1,1363.3L316.6,1362.4L320.3,1364.5L322.8,1363.5L324.1,1363.8L326.6,1365.9L327.8,1366.3L330.3,1364.7L335.3,1366.0L339.1,1365.2L344.1,1366.0L345.3,1366.7L346.6,1366.8L347.8,1366.4L350.3,1366.6L351.6,1365.9L352.8,1366.2L354.1,1367.6L355.3,1367.4L356.6,1366.1L357.8,1366.2L359.1,1366.9L361.6,1366.5L364.1,1367.4L365.3,1368.3L366.6,1368.1L367.8,1366.9L371.6,1365.9L374.1,1366.9L380.3,1367.7L381.6,1366.9L382.8,1366.6L385.3,1367.1L387.8,1366.6L390.3,1367.1L391.6,1366.1L392.8,1365.7L394.1,1366.2L397.8,1364.6L400.3,1364.6L404.1,1362.3L407.8,1361.1L410.3,1361.2L411.6,1360.5L416.6,1352.8L419.1,1350.6L420.3,1348.2L425.3,1328.8L429.1,1301.4L435.3,1220.8L436.6,1212.5L437.8,1217.4L441.6,1315.7L442.8,1339.0L444.1,1353.3L445.3,1360.1L446.6,1363.0L447.8,1364.6L451.6,1366.5L452.8,1366.3L455.3,1364.9L459.1,1364.8L461.6,1363.0L464.1,1359.0L467.8,1356.4L469.1,1357.3L471.6,1361.7L472.8,1364.7L475.3,1367.7L476.6,1368.4L477.8,1367.9L480.3,1368.8L482.8,1368.2L486.6,1369.1L489.1,1368.3L491.6,1369.2L492.8,1369.2L497.8,1367.4L500.3,1367.4L501.6,1366.6L502.8,1367.2L504.1,1367.1L505.3,1365.7L509.1,1364.0L511.6,1363.9L514.0,1361.6L516.5,1360.1L521.5,1353.7L527.8,1339.7L530.3,1331.3L534.0,1309.0L536.5,1283.1L539.0,1241.7L541.5,1175.4L545.3,1030.7L546.5,999.6L547.8,999.9L549.0,1038.4L552.8,1232.7L555.3,1314.5L556.5,1336.2L557.8,1348.4L559.0,1354.4L560.3,1357.6L562.8,1361.1L564.0,1362.0L570.3,1362.7L572.8,1362.7L574.0,1362.3L576.5,1359.8L580.3,1358.8L582.8,1358.9L586.5,1361.0L589.0,1364.1L591.5,1365.3L592.8,1367.1L594.0,1367.9L599.0,1369.3L605.3,1369.6L606.5,1369.1L609.0,1369.7L612.8,1368.6L615.3,1368.6L621.5,1366.7L622.8,1366.7L624.0,1366.0L629.0,1360.6L631.5,1356.3L635.3,1345.5L639.0,1326.3L640.3,1322.6L641.5,1322.3L642.8,1326.2L647.8,1357.1L649.0,1362.7L650.3,1365.4L651.5,1365.9L652.8,1365.4L655.3,1365.8L661.5,1361.7L662.8,1361.8L665.3,1363.9L669.0,1369.3L670.3,1370.2L672.8,1370.0L674.0,1370.7L675.3,1370.6L676.5,1369.9L679.0,1370.6L681.5,1369.8L686.5,1369.7L689.0,1369.0L691.5,1369.1L692.8,1368.4L695.3,1368.6L696.5,1368.0L699.0,1368.5L705.3,1365.1L709.0,1361.0L710.3,1358.6L714.0,1347.6L716.5,1335.7L720.3,1310.5L721.5,1305.4L722.8,1304.2L724.0,1308.4L730.3,1356.1L731.5,1361.0L732.8,1363.2L735.3,1363.4L736.5,1364.5L737.8,1364.0L741.5,1360.6L744.0,1360.0L745.3,1358.7L751.5,1348.6L752.8,1347.5L756.5,1352.5L759.0,1357.6L761.5,1358.6L765.3,1362.8L767.8,1363.7L771.5,1362.2L774.0,1359.6L776.5,1358.3L781.5,1349.1L784.0,1340.0L786.5,1325.3L789.0,1301.5L795.3,1202.7L796.5,1188.1L797.8,1185.4L799.0,1199.0L804.0,1316.8L805.3,1336.3L806.5,1348.7L807.8,1356.3L810.3,1364.2L811.5,1366.5L812.8,1367.1L814.0,1367.1L815.3,1367.8L819.0,1368.4L820.3,1367.7L821.5,1367.8L824.0,1369.7L826.5,1369.0L829.0,1370.1L831.5,1370.1L832.8,1370.6L835.3,1369.4L841.5,1371.1L844.0,1369.3L846.5,1369.5L851.5,1367.4L854.0,1367.5L855.3,1366.9L861.5,1359.4L862.8,1358.0L866.5,1356.5L867.8,1358.1L870.3,1364.4L874.0,1369.3L875.3,1370.4L879.0,1369.7L881.5,1370.0L882.8,1369.7L884.0,1370.3L885.3,1371.6L886.5,1371.9L889.0,1371.0L895.3,1371.2L901.5,1371.8L902.8,1370.8L904.0,1370.5L907.8,1371.1L912.8,1369.9L914.0,1370.4L915.3,1370.3L920.3,1368.4L922.8,1366.1L926.5,1364.2L927.8,1364.7L931.5,1368.6L932.8,1369.3L935.3,1369.1L937.8,1371.2L942.8,1371.4L949.0,1370.1L951.5,1369.0L954.0,1369.7L957.8,1369.6L960.3,1367.9L962.8,1367.7L969.0,1362.1L975.3,1353.8L980.3,1347.2L981.5,1346.2L982.8,1344.0L987.8,1328.7L989.0,1326.7L990.3,1326.7L991.5,1329.2L997.8,1360.7L999.0,1365.1L1000.3,1367.8L1001.5,1369.0L1007.8,1369.9L1009.0,1370.4L1011.5,1370.1L1012.8,1371.0L1014.0,1371.4L1020.3,1371.1L1022.8,1370.1L1025.3,1371.7L1027.8,1370.2L1030.3,1371.7L1032.8,1369.5L1035.3,1369.8L1041.5,1367.1L1046.5,1362.4L1047.8,1361.6L1050.3,1361.7L1054.0,1363.2L1057.8,1368.5L1059.0,1369.3L1064.0,1369.1L1067.8,1370.9L1071.5,1370.0L1072.8,1369.1L1076.5,1369.0L1080.3,1367.3L1082.8,1365.0L1085.3,1364.0L1090.3,1357.3L1096.5,1333.3L1099.0,1322.3L1100.3,1318.8L1101.5,1318.4L1102.8,1322.0L1109.0,1359.1L1112.8,1366.9L1115.3,1369.5L1117.8,1370.0L1121.5,1368.3L1124.0,1370.1L1125.3,1369.4L1130.3,1370.1L1132.8,1368.3L1135.3,1368.0L1140.3,1364.9L1142.8,1362.0L1146.5,1354.9L1151.5,1341.5L1152.8,1340.0L1154.0,1340.1L1155.3,1342.7L1160.3,1359.2L1164.0,1366.4L1166.5,1368.4L1169.0,1368.3L1174.0,1369.0L1179.0,1367.6L1185.3,1363.1L1187.8,1360.6L1191.5,1353.6L1194.0,1344.6L1200.3,1310.1L1202.8,1299.5L1204.0,1297.7L1205.3,1301.3L1211.5,1351.8L1212.8,1358.6L1214.0,1362.6L1217.8,1369.5L1222.8,1369.4L1225.3,1370.5L1226.5,1370.4L1229.0,1369.4L1232.8,1370.6L1239.0,1369.8L1244.0,1369.7L1249.0,1367.6L1251.5,1364.8L1254.0,1363.3L1256.5,1360.6L1257.8,1360.1L1260.3,1361.0L1266.5,1367.9L1267.8,1369.5L1269.0,1370.2L1274.0,1371.4L1276.5,1369.3L1277.8,1369.3L1279.0,1370.5L1280.3,1370.7L1281.5,1369.7L1285.3,1369.6L1286.5,1369.0L1287.8,1367.2L1290.3,1367.2L1294.0,1363.6L1296.5,1360.6L1299.0,1359.6L1300.3,1360.0L1302.8,1362.1L1304.0,1362.6L1306.5,1365.4L1310.3,1365.8L1316.5,1358.5L1321.5,1353.9L1322.8,1354.7L1326.5,1360.0L1327.8,1360.6L1330.3,1359.6L1331.5,1359.5L1334.0,1356.1L1336.5,1350.9L1342.8,1331.0L1344.0,1329.8L1345.3,1331.5L1351.5,1357.1L1354.0,1364.3L1356.5,1367.3L1362.8,1368.3L1365.3,1368.0L1370.3,1367.5L1372.8,1365.3L1374.0,1365.3L1375.3,1363.8L1381.5,1351.3L1384.0,1345.9L1386.5,1338.3L1387.8,1336.5L1389.0,1335.6L1390.3,1336.7L1396.5,1358.9L1399.0,1366.1L1400.3,1367.9L1401.5,1368.8L1404.0,1368.5L1406.5,1369.4L1409.0,1368.2L1414.0,1366.9L1416.5,1364.5L1417.8,1363.9L1422.8,1357.1L1429.0,1341.6L1431.5,1340.0L1432.8,1340.6L1434.0,1343.8L1437.8,1357.7L1441.5,1365.7L1444.0,1368.0L1446.5,1368.2L1449.0,1370.0L1451.5,1368.4L1454.0,1368.2L1455.3,1367.4L1457.8,1367.9L1459.0,1367.0L1461.5,1363.0L1465.3,1358.3L1469.0,1350.3L1472.8,1344.4L1474.0,1344.8L1480.3,1361.8L1484.0,1368.5L1485.3,1369.7L1487.8,1371.0L1490.3,1370.5L1492.8,1371.4L1495.3,1371.5L1497.8,1372.4L1502.8,1371.5L1507.8,1372.4L1510.3,1371.3L1516.5,1371.9L1519.0,1371.9L1521.5,1370.9L1526.5,1372.1L1531.5,1370.6L1535.3,1371.3L1540.3,1369.2L1541.5,1369.2L1544.0,1367.0L1547.8,1365.6L1550.3,1363.8L1554.0,1362.8L1560.3,1367.4L1562.8,1368.7L1565.3,1370.9L1571.5,1369.9L1575.3,1368.1L1577.8,1367.4L1584.0,1360.5L1585.3,1360.0L1586.5,1358.1L1589.0,1350.7L1590.3,1349.1L1591.5,1348.2L1594.0,1349.7L1595.3,1351.3L1599.0,1361.0L1602.8,1368.6L1604.0,1370.1L1606.5,1371.5L1607.8,1371.8L1610.3,1370.9L1612.8,1371.4L1614.0,1370.5L1615.3,1370.6L1616.5,1371.8L1617.8,1372.3L1619.0,1371.1L1620.3,1370.9L1621.5,1371.8L1625.3,1372.9L1630.3,1371.1L1632.8,1372.1L1637.8,1371.4L1640.3,1371.5L1644.0,1370.7L1646.5,1371.0L1649.0,1369.8L1654.0,1368.3L1660.3,1364.0L1665.3,1357.6L1670.3,1353.6L1671.5,1354.2L1677.8,1365.9L1679.0,1368.1L1681.5,1369.6L1685.3,1370.3L1686.5,1370.1L1687.8,1369.2L1691.5,1369.8L1694.0,1367.7L1695.3,1367.6L1700.3,1362.8L1702.8,1361.7L1704.0,1360.5L1705.3,1359.9L1706.5,1360.9L1709.0,1365.1L1711.5,1367.0L1714.0,1371.0L1715.3,1371.3L1716.5,1370.9L1720.3,1371.8L1722.8,1371.3L1725.3,1370.1L1726.5,1370.9L1727.8,1372.5L1729.0,1372.4L1730.3,1371.4L1731.5,1371.4L1734.0,1372.4L1735.3,1372.4L1736.5,1371.8L1739.0,1372.1L1740.3,1371.5L1742.8,1371.8L1745.3,1370.4L1747.8,1371.4L1749.0,1370.8L1750.3,1370.7L1752.8,1371.9L1756.5,1371.6L1757.8,1370.6L1759.0,1370.3L1761.5,1371.6L1762.8,1371.3L1765.3,1368.8L1766.5,1368.5L1767.8,1368.7L1770.3,1366.0L1775.3,1363.9L1777.8,1364.3L1779.0,1365.0L1781.5,1368.2L1787.8,1373.0L1790.3,1372.0L1791.5,1371.9L1794.0,1373.2L1795.3,1373.1L1796.5,1372.2L1799.0,1372.7L1804.0,1371.7L1809.0,1373.3L1810.3,1373.4L1812.8,1372.3L1815.3,1372.6L1816.5,1372.0L1822.8,1372.8L1825.3,1371.7L1827.8,1372.9L1831.5,1372.0L1834.0,1372.9L1837.8,1372.5L1840.3,1371.4L1842.8,1373.2L1844.0,1373.2L1846.5,1371.2L1850.3,1372.0L1851.5,1372.8L1855.3,1372.5L1856.5,1372.0L1859.0,1373.0L1861.5,1371.9L1862.8,1371.8L1867.8,1373.2L1870.3,1372.2L1872.8,1372.4L1874.0,1372.0L1875.3,1372.1L1879.0,1373.3L1880.3,1373.0L1882.8,1371.6L1885.3,1371.4L1887.8,1372.4L1891.5,1371.0L1894.0,1371.3L1896.5,1369.8L1899.0,1369.7L1901.5,1368.7L1906.5,1368.3L1909.0,1365.0L1910.3,1364.4L1912.8,1365.4L1916.5,1370.3L1919.0,1371.1L1921.5,1370.6L1924.0,1371.9L1926.5,1371.8L1930.3,1373.3L1931.5,1372.9L1932.8,1371.9L1934.0,1371.9L1936.5,1372.6L1939.0,1371.9L1940.3,1371.0L1941.5,1371.1L1945.3,1374.0L1947.8,1373.1L1951.5,1373.2L1955.3,1371.0L1957.8,1371.8L1960.3,1370.7L1964.0,1370.3L1966.5,1371.1L1972.8,1367.9L1976.5,1365.7L1982.8,1369.9L1985.3,1372.0L1987.8,1372.9L1990.3,1371.3L1992.8,1373.4L1994.0,1373.8L1999.0,1372.1L2001.5,1373.4L2006.5,1372.1L2010.3,1371.6L2011.5,1372.1L2014.0,1371.3L2016.5,1373.4L2022.8,1372.4L2024.0,1372.1L2025.3,1372.4L2026.5,1372.1L2030.3,1369.6L2031.5,1369.7L2032.8,1370.6L2034.0,1370.6L2036.5,1369.1L2039.0,1369.5L2040.3,1369.1L2041.5,1368.1L2045.3,1368.1L2049.1,1371.6L2050.3,1371.8L2052.8,1371.0L2055.3,1372.7L2057.8,1371.8L2061.6,1373.6L2065.3,1373.2L2067.8,1370.6L2069.1,1370.4L2071.6,1370.9L2074.1,1370.8L2076.6,1372.7L2077.8,1372.9L2079.1,1372.5L2081.6,1371.0L2085.3,1371.2L2086.6,1371.8L2087.8,1371.8L2089.1,1371.0L2090.3,1371.0L2091.6,1371.6L2094.1,1370.4L2096.6,1368.5L2097.8,1368.3L2100.3,1369.1L2102.8,1367.5L2106.6,1367.9L2109.1,1369.3L2112.8,1369.3L2115.3,1371.1L2116.6,1371.3L2117.8,1370.8L2120.3,1371.9L2122.8,1369.7L2125.3,1369.8L2129.1,1368.6L2132.8,1366.3L2136.6,1365.7L2137.8,1366.1L2140.3,1368.8L2146.6,1371.8L2150.3,1371.3L2151.6,1371.5L2154.1,1373.3L2160.3,1372.5L2166.6,1371.8L2169.1,1371.0L2170.3,1371.3L2172.8,1373.1L2175.3,1371.7L2179.1,1372.2L2184.1,1370.4L2186.6,1371.3L2189.1,1368.8L2190.3,1368.7L2191.6,1369.0L2197.8,1367.0L2200.3,1369.3L2201.6,1369.7L2202.8,1369.2L2205.3,1371.3L2209.1,1372.7L2211.6,1372.6L2214.1,1372.0L2216.6,1372.6L2219.1,1372.5L2222.8,1373.3L2229.1,1372.8L2231.6,1372.5L2234.1,1371.9L2236.6,1373.0L2239.1,1372.7L2241.6,1373.2L2244.1,1372.8L2246.6,1371.7L2250.3,1373.2L2255.3,1373.2L2259.1,1371.1L2265.3,1371.1L2270.3,1371.7L2272.8,1370.9L2275.3,1369.1L2277.8,1368.6L2280.3,1366.9L2284.1,1366.1L2286.6,1369.2L2292.8,1371.9L2296.6,1373.0L2300.3,1372.9"/>
<path stroke="#C57AE5" d="M190.3,1218.7L196.6,1219.1L197.8,1219.5L200.3,1218.8L202.8,1219.1L205.3,1218.2L207.8,1219.0L214.1,1218.6L215.3,1219.0L216.6,1218.9L217.8,1218.1L222.8,1217.7L225.3,1218.5L229.1,1217.7L230.3,1217.9L234.1,1216.3L235.3,1216.3L239.1,1214.5L240.3,1214.3L246.6,1210.1L250.3,1207.0L255.3,1201.2L261.6,1188.6L266.6,1172.7L271.6,1148.8L275.3,1121.3L279.1,1077.8L282.8,1007.2L286.6,888.7L290.3,686.9L292.8,515.9L294.1,461.7L295.3,482.4L299.1,1007.8L300.3,1115.8L301.6,1170.1L302.8,1193.7L304.1,1203.6L305.3,1208.0L310.3,1214.5L312.8,1216.4L315.3,1216.9L316.6,1217.5L319.1,1217.7L321.6,1219.5L327.8,1219.9L334.1,1219.9L336.6,1221.2L339.1,1219.4L341.6,1220.3L346.6,1219.8L349.1,1220.8L351.6,1220.6L354.1,1221.0L356.6,1219.6L360.3,1221.1L365.3,1220.9L367.8,1220.2L371.6,1220.1L374.1,1220.8L376.6,1220.1L379.1,1220.2L380.3,1219.7L382.8,1220.5L386.6,1218.8L389.1,1219.8L392.8,1218.4L396.6,1218.1L400.3,1217.1L404.1,1216.9L410.3,1213.7L414.1,1211.2L419.1,1204.0L422.8,1196.0L426.6,1180.3L429.1,1162.5L435.3,1089.3L436.6,1082.5L437.8,1091.5L441.6,1185.1L442.8,1203.0L444.1,1211.8L445.3,1216.0L446.6,1218.0L447.8,1218.6L450.3,1218.9L456.6,1220.5L460.3,1219.6L461.6,1219.7L464.1,1220.8L470.3,1219.8L472.8,1221.0L475.3,1219.9L481.6,1219.8L482.8,1219.3L486.6,1220.0L491.6,1218.8L494.1,1219.4L496.6,1218.9L497.8,1219.0L500.3,1217.9L504.1,1218.2L507.8,1215.5L514.0,1212.8L515.3,1212.4L521.5,1205.3L527.8,1192.7L531.5,1177.7L535.3,1151.0L537.8,1118.9L540.3,1066.9L545.3,881.1L546.5,853.7L547.8,862.2L552.8,1115.1L554.0,1158.2L555.3,1185.1L556.5,1199.8L557.8,1207.8L559.0,1212.5L560.3,1214.5L562.8,1216.8L564.0,1217.0L565.3,1216.7L570.3,1218.7L574.0,1218.5L576.5,1219.6L579.0,1219.0L581.5,1219.7L582.8,1219.3L585.3,1220.1L587.8,1219.5L594.0,1220.3L600.3,1220.0L606.5,1220.2L612.8,1219.1L615.3,1217.9L620.3,1217.5L625.3,1214.2L626.5,1214.0L627.8,1212.9L632.8,1200.6L639.0,1169.9L640.3,1166.9L641.5,1168.1L646.5,1204.9L647.8,1211.3L649.0,1215.2L650.3,1217.6L651.5,1219.0L656.5,1219.8L657.8,1219.6L660.3,1220.7L666.5,1220.3L667.8,1220.4L670.3,1219.7L671.5,1220.4L677.8,1220.5L680.3,1219.4L685.3,1219.4L687.8,1219.0L690.3,1219.5L694.0,1218.3L696.5,1218.1L701.5,1216.1L706.5,1212.9L710.3,1207.9L712.8,1201.8L715.3,1190.7L720.3,1158.3L721.5,1152.2L722.8,1151.0L724.0,1156.2L729.0,1202.8L730.3,1210.0L731.5,1214.6L732.8,1217.0L736.5,1219.0L742.8,1220.1L749.0,1219.6L751.5,1219.7L754.0,1217.9L756.5,1218.9L762.8,1217.8L764.0,1217.4L765.3,1216.4L767.8,1216.1L772.8,1212.7L777.8,1207.9L781.5,1201.0L784.0,1193.3L786.5,1180.6L789.0,1160.0L795.3,1073.0L796.5,1060.8L797.8,1058.0L799.0,1071.0L804.0,1178.1L805.3,1194.4L806.5,1205.2L807.8,1211.8L809.0,1215.1L811.5,1217.4L814.0,1217.9L816.5,1218.0L819.0,1219.6L822.8,1219.5L825.3,1220.3L829.0,1220.1L831.5,1219.0L837.8,1220.2L840.3,1219.6L842.8,1219.3L845.3,1218.5L847.8,1219.3L850.3,1219.0L855.3,1216.5L859.0,1212.6L862.8,1206.3L864.0,1204.9L865.3,1204.4L866.5,1205.3L871.5,1216.2L874.0,1219.3L875.3,1219.7L876.5,1219.4L879.0,1220.7L881.5,1220.6L882.8,1221.0L885.3,1219.7L891.5,1220.6L894.0,1221.1L897.8,1220.8L900.3,1221.4L902.8,1220.7L905.3,1221.2L911.5,1220.9L917.8,1221.3L924.0,1221.2L926.5,1221.2L929.0,1220.0L932.8,1221.0L935.3,1220.4L940.3,1220.9L941.5,1220.5L945.3,1221.1L947.8,1220.7L950.3,1221.0L955.3,1219.5L956.5,1219.5L957.8,1220.0L962.8,1219.6L965.3,1218.5L967.8,1219.1L974.0,1216.1L977.8,1213.7L982.8,1205.3L987.8,1190.7L989.0,1188.2L990.3,1187.6L991.5,1190.0L996.5,1211.3L999.0,1217.0L1001.5,1219.6L1004.0,1220.4L1005.3,1219.9L1007.8,1220.7L1012.8,1220.9L1015.3,1220.0L1021.5,1220.6L1022.8,1221.1L1029.0,1220.1L1030.3,1219.5L1035.3,1220.1L1036.5,1219.6L1037.8,1218.1L1040.3,1217.6L1044.0,1216.4L1046.5,1214.5L1047.8,1214.1L1050.3,1216.0L1056.5,1219.5L1059.0,1219.3L1061.5,1220.1L1067.8,1219.6L1069.0,1219.0L1071.5,1219.1L1072.8,1218.2L1079.0,1217.5L1081.5,1216.6L1087.8,1210.6L1090.3,1206.7L1094.0,1195.0L1099.0,1173.9L1100.3,1170.6L1101.5,1170.0L1102.8,1173.5L1109.0,1210.1L1110.3,1214.4L1111.5,1216.5L1117.8,1218.9L1124.0,1219.3L1129.0,1218.3L1130.3,1218.5L1132.8,1217.7L1136.5,1217.2L1141.5,1213.2L1144.0,1209.7L1150.3,1194.9L1152.8,1190.7L1154.0,1191.0L1155.3,1193.0L1160.3,1210.7L1162.8,1216.1L1167.8,1218.6L1170.3,1216.9L1172.8,1217.3L1177.8,1216.2L1179.0,1216.6L1180.3,1216.1L1182.8,1213.1L1185.3,1211.8L1190.3,1203.9L1192.8,1196.8L1196.5,1178.8L1201.5,1148.3L1202.8,1144.5L1204.0,1144.7L1205.3,1150.9L1210.3,1196.9L1212.8,1211.1L1214.0,1214.9L1215.3,1217.0L1219.0,1219.3L1222.8,1219.0L1227.8,1220.5L1231.5,1221.0L1234.0,1220.8L1235.3,1221.1L1237.8,1220.5L1240.3,1220.9L1242.8,1220.1L1245.3,1220.9L1247.8,1220.5L1250.3,1220.7L1252.8,1219.8L1255.3,1220.6L1257.8,1222.1L1261.5,1221.0L1264.0,1221.1L1266.5,1220.1L1272.8,1221.0L1279.0,1219.6L1282.8,1220.2L1284.0,1219.9L1285.3,1219.1L1287.8,1218.4L1292.8,1214.9L1297.8,1213.2L1299.0,1213.4L1305.3,1219.1L1306.5,1220.0L1307.8,1220.0L1311.5,1218.7L1314.0,1219.1L1316.5,1218.5L1319.0,1218.8L1325.3,1217.0L1330.3,1213.6L1334.0,1208.1L1336.5,1202.3L1342.8,1181.2L1344.0,1177.6L1345.3,1176.2L1346.5,1177.2L1352.8,1206.5L1354.0,1211.6L1355.3,1214.7L1359.0,1218.0L1360.3,1218.7L1366.5,1218.1L1371.5,1215.6L1372.8,1215.5L1376.5,1212.3L1380.3,1207.2L1386.5,1192.7L1387.8,1190.8L1389.0,1190.2L1390.3,1191.6L1396.5,1211.2L1399.0,1215.8L1401.5,1218.3L1405.3,1218.9L1410.3,1217.8L1412.8,1217.8L1415.3,1216.3L1416.5,1216.0L1417.8,1215.0L1421.5,1210.4L1427.8,1199.4L1430.3,1195.6L1431.5,1194.7L1432.8,1195.7L1439.0,1213.4L1442.8,1217.6L1444.0,1218.1L1446.5,1218.0L1450.3,1218.6L1452.8,1217.2L1457.8,1216.3L1464.0,1210.0L1470.3,1197.9L1472.8,1193.8L1474.0,1193.8L1476.5,1198.5L1481.5,1213.9L1484.0,1218.0L1487.8,1219.7L1491.5,1220.4L1494.0,1219.9L1496.5,1221.1L1497.8,1221.2L1500.3,1220.2L1506.5,1220.3L1509.0,1220.9L1511.5,1220.3L1514.0,1221.4L1516.5,1220.4L1519.0,1220.8L1522.8,1220.1L1525.3,1220.1L1526.5,1219.6L1529.0,1220.1L1535.3,1218.8L1541.5,1216.8L1545.3,1215.1L1547.8,1212.5L1552.8,1210.4L1554.0,1211.2L1556.5,1214.7L1562.8,1219.1L1565.3,1219.6L1569.0,1218.1L1572.8,1217.3L1574.0,1216.7L1576.5,1216.3L1579.0,1213.8L1581.5,1211.9L1585.3,1206.2L1589.0,1197.5L1590.3,1195.4L1591.5,1194.6L1592.8,1194.5L1594.0,1194.9L1595.3,1196.9L1600.3,1212.3L1602.8,1217.0L1604.0,1218.5L1607.8,1220.0L1610.3,1219.6L1616.5,1220.2L1617.8,1220.8L1624.0,1220.4L1627.8,1220.0L1634.0,1220.4L1639.0,1220.0L1644.0,1218.8L1646.5,1218.9L1649.0,1217.4L1651.5,1217.3L1656.5,1215.3L1662.8,1207.4L1665.3,1203.0L1666.5,1201.7L1669.0,1201.5L1670.3,1202.1L1676.5,1215.0L1679.0,1217.8L1682.8,1219.3L1685.3,1218.9L1686.5,1219.5L1687.8,1219.5L1691.5,1217.4L1694.0,1217.1L1700.3,1212.5L1702.8,1210.4L1704.0,1210.4L1706.5,1212.0L1710.3,1216.3L1716.5,1219.8L1722.8,1220.3L1729.0,1221.5L1734.0,1220.5L1736.5,1221.1L1739.0,1220.6L1741.5,1220.7L1744.0,1219.9L1746.5,1221.0L1749.0,1221.2L1750.3,1220.9L1751.5,1220.0L1754.0,1220.0L1756.5,1219.4L1757.8,1219.8L1764.0,1218.0L1767.8,1216.2L1770.3,1214.1L1772.8,1213.2L1775.3,1211.6L1780.3,1214.3L1784.0,1218.9L1790.3,1221.0L1795.3,1220.3L1800.3,1221.5L1802.8,1220.1L1805.3,1220.3L1806.5,1221.2L1807.8,1221.5L1809.0,1220.8L1810.3,1220.7L1812.8,1221.6L1814.0,1221.6L1816.5,1220.4L1820.3,1221.0L1822.8,1220.3L1826.5,1220.8L1829.0,1222.0L1835.3,1220.9L1836.5,1221.0L1839.0,1220.0L1845.3,1221.5L1847.8,1221.1L1850.3,1221.4L1855.3,1219.8L1859.0,1221.2L1861.5,1220.5L1867.8,1221.0L1872.8,1220.9L1874.0,1220.6L1876.5,1221.1L1879.0,1219.6L1881.5,1220.3L1884.0,1220.2L1886.5,1220.6L1889.0,1219.8L1895.3,1220.3L1901.5,1217.5L1907.8,1213.7L1912.8,1213.4L1915.3,1214.6L1917.8,1217.2L1921.5,1219.5L1925.3,1219.9L1927.8,1220.7L1930.3,1220.4L1934.0,1220.7L1936.5,1220.5L1939.0,1221.8L1944.0,1220.4L1946.5,1221.2L1949.0,1221.1L1951.5,1220.1L1955.3,1220.4L1957.8,1219.9L1960.3,1220.0L1961.5,1219.1L1962.8,1218.9L1964.0,1219.2L1965.3,1218.9L1967.8,1217.2L1970.3,1216.5L1972.8,1216.2L1975.3,1214.5L1979.0,1214.3L1982.8,1216.4L1986.5,1219.7L1987.8,1219.8L1989.0,1219.2L1990.3,1219.3L1992.8,1221.0L1994.0,1220.9L1996.5,1219.9L1999.0,1220.7L2005.3,1220.7L2007.8,1220.3L2010.3,1221.2L2012.8,1220.7L2016.5,1221.3L2022.8,1219.9L2027.8,1220.0L2034.0,1218.5L2036.5,1218.6L2039.0,1217.3L2044.0,1217.0L2050.3,1220.2L2055.3,1220.3L2056.6,1219.8L2057.8,1220.1L2059.1,1221.0L2062.8,1221.1L2067.8,1220.3L2070.3,1221.3L2074.1,1219.9L2076.6,1221.6L2077.8,1221.4L2079.1,1220.6L2080.3,1220.4L2082.8,1221.4L2085.3,1220.0L2090.3,1220.0L2094.1,1217.6L2096.6,1217.3L2099.1,1216.0L2102.8,1215.6L2105.3,1216.5L2106.6,1216.4L2109.1,1218.0L2112.8,1219.7L2119.1,1219.3L2124.1,1217.7L2127.8,1216.9L2130.3,1215.3L2132.8,1215.1L2135.3,1214.3L2137.8,1214.9L2144.1,1218.6L2146.6,1219.6L2147.8,1220.5L2149.1,1220.9L2151.6,1220.1L2155.3,1220.4L2157.8,1221.5L2159.1,1221.6L2161.6,1220.8L2165.3,1220.8L2167.8,1220.3L2174.1,1220.8L2179.1,1219.3L2181.6,1219.3L2184.1,1218.6L2186.6,1219.5L2189.1,1218.0L2195.3,1216.2L2197.8,1215.8L2199.1,1216.0L2205.3,1219.4L2207.8,1220.4L2209.1,1220.4L2211.6,1221.5L2214.1,1220.5L2217.8,1220.5L2219.1,1220.1L2221.6,1220.8L2227.8,1221.5L2232.8,1220.8L2235.3,1221.3L2239.1,1220.6L2242.8,1220.9L2245.3,1219.9L2249.1,1220.9L2250.3,1220.9L2251.6,1220.2L2254.1,1220.9L2260.3,1220.3L2266.6,1219.7L2272.8,1218.3L2277.8,1216.8L2281.6,1214.1L2284.1,1214.0L2290.3,1216.8L2292.8,1218.8L2297.8,1221.0L2300.3,1220.9"/>
<path stroke="#DE9B00" d="M190.3,1055.2L192.8,1055.0L195.3,1055.9L197.8,1054.9L201.6,1055.7L202.8,1056.8L204.1,1057.1L207.8,1055.4L212.8,1055.7L215.3,1054.6L216.6,1055.2L217.8,1055.3L219.1,1054.5L220.3,1054.9L221.6,1055.9L222.8,1056.3L226.6,1054.8L229.1,1054.7L230.3,1053.7L232.8,1053.5L235.3,1052.0L237.8,1051.4L242.8,1048.8L245.3,1047.8L247.8,1045.0L249.1,1044.1L255.3,1035.3L257.8,1029.8L260.3,1022.5L261.6,1020.0L266.6,1001.4L272.8,965.6L276.6,931.7L281.6,854.6L285.3,759.6L290.3,534.8L294.1,327.8L295.3,304.5L296.6,359.9L300.3,803.9L301.6,908.3L302.8,973.9L304.1,1010.1L305.3,1028.1L306.6,1036.6L309.1,1044.2L314.1,1052.0L315.3,1053.0L317.8,1053.4L320.3,1054.5L326.6,1057.1L332.8,1058.7L336.6,1058.5L339.1,1059.5L341.6,1058.3L342.8,1058.2L345.3,1060.0L347.8,1058.9L349.1,1058.9L351.6,1060.5L352.8,1060.5L355.3,1059.1L357.8,1060.3L361.6,1060.9L364.1,1060.1L369.1,1061.1L372.8,1060.0L375.3,1060.4L376.6,1061.1L377.8,1061.1L380.3,1059.2L381.6,1059.3L384.1,1061.0L389.1,1060.5L392.8,1060.6L395.3,1059.0L397.8,1059.8L401.6,1059.0L405.3,1056.4L409.1,1054.3L411.6,1053.8L414.1,1052.4L415.3,1051.1L416.6,1048.6L419.1,1046.8L422.8,1039.0L426.6,1025.2L429.1,1010.1L431.6,986.2L437.8,900.0L439.1,898.5L440.3,924.7L442.8,1004.1L444.1,1030.7L445.3,1045.1L446.6,1052.0L447.8,1055.0L451.6,1057.0L455.3,1056.5L459.1,1053.4L460.3,1051.5L464.1,1040.4L466.6,1035.9L467.8,1035.4L469.1,1038.1L472.8,1053.3L476.6,1059.9L477.8,1060.8L481.6,1061.0L484.1,1059.9L485.3,1060.2L486.6,1059.4L489.1,1056.9L490.3,1056.5L494.1,1051.9L495.3,1051.4L496.6,1051.6L500.3,1057.1L502.8,1058.9L506.6,1059.3L511.6,1057.5L514.0,1055.2L516.5,1054.3L521.5,1048.8L522.8,1046.5L525.3,1043.7L530.3,1030.4L534.0,1011.9L536.5,992.0L539.0,961.3L541.5,907.0L546.5,715.3L547.8,683.0L549.0,685.7L550.3,732.4L554.0,944.2L555.3,990.0L556.5,1019.2L557.8,1036.0L559.0,1045.5L560.3,1050.3L564.0,1055.1L565.3,1055.8L566.5,1055.8L569.0,1056.8L574.0,1056.2L575.3,1055.2L581.5,1048.1L586.5,1042.9L587.8,1042.2L591.5,1046.3L597.8,1056.4L600.3,1059.8L601.5,1060.5L602.8,1060.4L604.0,1060.8L605.3,1062.0L607.8,1061.1L614.0,1060.7L616.5,1060.4L617.8,1060.7L621.5,1059.8L625.3,1056.2L627.8,1054.4L630.3,1050.2L635.3,1033.9L640.3,1004.7L641.5,1000.5L642.8,1000.4L644.0,1007.0L647.8,1039.9L649.0,1046.4L650.3,1049.7L652.8,1051.4L654.0,1050.8L656.5,1045.8L659.0,1038.2L660.3,1036.0L661.5,1034.9L662.8,1035.0L664.0,1038.2L667.8,1053.6L669.0,1057.0L670.3,1058.6L671.5,1059.2L676.5,1058.6L679.0,1057.1L681.5,1054.0L682.8,1053.3L684.0,1053.8L689.0,1059.7L691.5,1060.7L695.3,1060.8L699.0,1059.5L701.5,1059.5L707.8,1055.6L710.3,1052.3L714.0,1042.3L716.5,1031.7L721.5,996.7L722.8,990.5L724.0,988.0L725.3,992.4L730.3,1039.2L732.8,1051.4L734.0,1053.7L735.3,1054.4L736.5,1054.4L737.8,1053.8L740.3,1053.8L745.3,1047.7L751.5,1034.6L752.8,1032.4L754.0,1031.3L755.3,1031.4L756.5,1032.5L762.8,1046.2L765.3,1051.1L766.5,1052.6L769.0,1053.0L772.8,1051.7L776.5,1049.1L779.0,1046.3L781.5,1040.9L784.0,1032.8L786.5,1018.7L789.0,996.8L795.3,889.4L796.5,867.9L797.8,854.3L799.0,855.1L800.3,877.1L804.0,987.0L805.3,1014.2L806.5,1032.0L807.8,1043.1L810.3,1055.3L811.5,1057.7L817.8,1061.4L821.5,1061.0L824.0,1062.5L826.5,1062.8L827.8,1063.7L830.3,1061.9L831.5,1062.3L832.8,1063.4L834.0,1063.6L835.3,1063.2L837.8,1061.7L840.3,1060.8L841.5,1060.9L844.0,1062.6L845.3,1062.8L847.8,1061.5L849.0,1061.6L851.5,1060.5L852.8,1060.5L855.3,1059.5L856.5,1059.6L861.5,1054.3L865.3,1047.8L866.5,1046.8L867.8,1046.5L869.0,1048.4L875.3,1061.9L876.5,1062.9L879.0,1062.8L885.3,1063.9L889.0,1064.2L891.5,1063.5L897.8,1063.8L900.3,1063.5L901.5,1064.0L902.8,1064.0L904.0,1063.0L905.3,1062.8L906.5,1063.1L909.0,1062.0L911.5,1063.7L917.8,1063.3L921.5,1062.0L922.8,1062.1L924.0,1061.6L925.3,1060.2L926.5,1059.4L929.0,1059.4L934.0,1055.5L937.8,1057.2L940.3,1060.6L944.0,1062.6L946.5,1061.6L947.8,1062.5L949.0,1062.7L950.3,1061.9L951.5,1062.0L954.0,1063.3L956.5,1061.7L960.3,1059.8L962.8,1060.0L969.0,1054.8L971.5,1052.2L977.8,1040.7L979.0,1040.6L981.5,1041.2L982.8,1040.6L985.3,1034.5L989.0,1021.6L990.3,1019.6L991.5,1020.1L992.8,1023.9L997.8,1050.8L1000.3,1058.6L1001.5,1060.5L1002.8,1061.3L1004.0,1061.4L1006.5,1061.1L1010.3,1063.5L1012.8,1062.7L1016.5,1062.1L1020.3,1063.3L1026.5,1062.6L1029.0,1060.8L1031.5,1060.5L1037.8,1061.8L1042.8,1058.5L1049.0,1051.1L1050.3,1050.4L1051.5,1050.4L1052.8,1051.0L1057.8,1059.6L1059.0,1060.6L1060.3,1060.7L1062.8,1062.6L1064.0,1062.9L1066.5,1061.8L1069.0,1062.7L1072.8,1062.0L1075.3,1061.0L1077.8,1061.0L1082.8,1058.2L1084.0,1058.1L1090.3,1049.6L1092.8,1044.0L1099.0,1016.8L1101.5,1008.3L1102.8,1008.0L1104.0,1013.3L1109.0,1046.8L1110.3,1052.7L1111.5,1056.6L1116.5,1061.9L1117.8,1062.4L1119.0,1062.1L1121.5,1063.2L1124.0,1061.4L1125.3,1061.2L1129.0,1062.5L1131.5,1061.9L1134.0,1059.9L1136.5,1060.2L1141.5,1058.3L1142.8,1057.2L1146.5,1049.9L1150.3,1039.9L1154.0,1033.8L1155.3,1033.5L1157.8,1038.8L1161.5,1052.9L1164.0,1058.6L1165.3,1060.5L1166.5,1061.1L1167.8,1060.8L1170.3,1061.4L1174.0,1059.8L1175.3,1059.6L1176.5,1059.9L1177.8,1059.7L1182.8,1056.8L1185.3,1056.3L1189.0,1051.3L1192.8,1043.8L1196.5,1028.4L1202.8,990.6L1204.0,985.8L1205.3,986.2L1206.5,993.2L1212.8,1047.4L1214.0,1052.6L1216.5,1058.2L1217.8,1059.4L1219.0,1059.6L1221.5,1062.2L1222.8,1062.7L1227.8,1062.2L1230.3,1063.0L1232.8,1062.2L1234.0,1061.2L1235.3,1060.8L1236.5,1061.6L1241.5,1061.6L1244.0,1060.2L1245.3,1060.4L1247.8,1058.1L1250.3,1056.7L1256.5,1049.3L1259.0,1046.7L1260.3,1046.7L1261.5,1047.2L1266.5,1057.0L1270.3,1061.6L1271.5,1062.1L1274.0,1061.7L1276.5,1062.6L1280.3,1061.6L1281.5,1060.6L1282.8,1060.4L1284.0,1061.1L1285.3,1061.0L1289.0,1059.4L1292.8,1054.6L1295.3,1052.5L1297.8,1048.4L1299.0,1047.3L1300.3,1047.2L1302.8,1049.0L1305.3,1052.2L1307.8,1052.6L1310.3,1051.5L1314.0,1047.3L1317.8,1040.2L1319.0,1038.5L1320.3,1037.9L1321.5,1039.3L1324.0,1045.7L1327.8,1051.0L1329.0,1052.0L1330.3,1051.3L1332.8,1047.7L1335.3,1042.0L1339.0,1028.7L1341.5,1018.2L1344.0,1012.8L1345.3,1012.2L1346.5,1015.7L1351.5,1046.0L1354.0,1054.8L1356.5,1058.7L1357.8,1059.9L1362.8,1060.5L1366.5,1059.5L1367.8,1059.8L1374.0,1056.1L1377.8,1050.6L1384.0,1034.3L1387.8,1022.2L1389.0,1020.9L1390.3,1022.2L1391.5,1025.9L1397.8,1053.6L1399.0,1056.4L1401.5,1059.4L1404.0,1060.5L1407.8,1060.6L1410.3,1060.1L1411.5,1060.3L1415.3,1059.2L1417.8,1056.5L1419.0,1055.9L1424.0,1048.2L1427.8,1038.1L1431.5,1033.5L1432.8,1034.1L1439.0,1053.1L1441.5,1058.5L1444.0,1060.7L1445.3,1061.1L1446.5,1060.9L1447.8,1059.9L1450.3,1059.3L1451.5,1059.5L1452.8,1060.4L1454.0,1060.3L1459.0,1055.2L1461.5,1053.7L1464.0,1049.6L1470.3,1034.3L1472.8,1029.3L1474.0,1028.6L1475.3,1030.5L1481.5,1055.1L1482.8,1057.6L1487.8,1062.4L1494.0,1063.2L1496.5,1062.8L1497.8,1063.4L1500.3,1063.1L1505.3,1064.2L1510.3,1064.2L1512.8,1063.7L1514.0,1063.9L1516.5,1063.4L1517.8,1063.9L1520.3,1062.7L1522.8,1063.6L1524.0,1063.6L1526.5,1062.6L1530.3,1062.5L1532.8,1062.7L1534.0,1062.1L1536.5,1062.9L1539.0,1061.4L1540.3,1061.2L1544.0,1058.2L1547.8,1056.6L1549.0,1055.6L1551.5,1051.5L1552.8,1050.4L1555.3,1050.7L1559.0,1053.6L1562.8,1058.6L1569.0,1061.3L1570.3,1061.1L1571.5,1060.2L1574.0,1059.8L1576.5,1058.3L1577.8,1058.3L1579.0,1057.8L1582.8,1053.1L1586.5,1045.9L1592.8,1032.2L1594.0,1030.7L1595.3,1031.9L1601.5,1053.1L1602.8,1056.1L1607.8,1063.3L1609.0,1063.4L1610.3,1062.7L1612.8,1063.4L1616.5,1063.0L1617.8,1062.4L1620.3,1063.7L1621.5,1063.9L1624.0,1062.7L1627.8,1063.6L1630.3,1062.9L1635.3,1063.1L1637.8,1062.7L1639.0,1063.2L1645.3,1062.1L1646.5,1062.0L1650.3,1059.6L1655.3,1057.8L1656.5,1056.9L1662.8,1046.6L1666.5,1038.7L1669.0,1035.9L1670.3,1035.2L1671.5,1035.9L1677.8,1054.2L1679.0,1056.6L1682.8,1059.8L1685.3,1060.4L1687.8,1059.0L1689.0,1058.8L1691.5,1059.2L1694.0,1057.3L1695.3,1057.2L1696.5,1056.4L1702.8,1049.4L1704.0,1048.8L1706.5,1050.5L1709.0,1054.3L1711.5,1059.1L1712.8,1060.4L1716.5,1062.0L1719.0,1062.3L1722.8,1064.5L1724.0,1064.7L1726.5,1062.9L1729.0,1064.2L1732.8,1063.8L1739.0,1064.3L1741.5,1063.1L1746.5,1063.7L1749.0,1062.8L1750.3,1063.0L1752.8,1062.6L1754.0,1063.1L1756.5,1062.5L1760.3,1062.0L1762.8,1062.5L1769.0,1059.0L1772.8,1055.7L1776.5,1054.0L1777.8,1053.8L1781.5,1055.7L1787.8,1061.4L1789.0,1062.5L1792.8,1062.4L1795.3,1061.5L1797.8,1062.0L1802.8,1059.4L1805.3,1060.6L1809.0,1058.8L1812.8,1059.9L1816.5,1062.4L1822.8,1063.3L1825.3,1063.5L1827.8,1062.8L1829.0,1063.7L1832.8,1063.8L1835.3,1065.1L1836.5,1065.1L1837.8,1064.3L1840.3,1064.5L1842.8,1063.5L1844.0,1063.9L1845.3,1064.8L1850.3,1064.1L1851.5,1064.4L1854.0,1063.5L1856.5,1063.9L1861.5,1063.5L1862.8,1064.0L1865.3,1063.7L1866.5,1064.7L1869.0,1063.9L1870.3,1064.8L1872.8,1063.8L1874.0,1064.1L1876.5,1063.1L1877.8,1063.9L1879.0,1063.9L1880.3,1063.3L1882.8,1064.5L1886.5,1063.3L1890.3,1064.1L1892.8,1063.2L1894.0,1063.8L1895.3,1063.5L1896.5,1062.5L1899.0,1062.2L1901.5,1060.3L1902.8,1060.6L1904.0,1060.2L1905.3,1059.1L1907.8,1057.7L1909.0,1056.4L1911.5,1055.8L1917.8,1058.1L1924.0,1063.3L1929.0,1062.9L1932.8,1064.1L1934.0,1063.9L1935.3,1063.1L1937.8,1063.3L1939.0,1062.4L1940.3,1062.4L1941.5,1063.4L1944.0,1063.4L1945.3,1063.9L1949.0,1063.7L1950.3,1063.2L1952.8,1063.8L1955.3,1062.2L1961.5,1062.4L1965.3,1061.1L1966.5,1061.2L1967.8,1060.7L1970.3,1058.1L1972.8,1056.8L1976.5,1056.0L1977.8,1056.4L1981.5,1060.3L1982.8,1060.8L1984.0,1060.9L1986.5,1062.7L1992.8,1063.7L1995.3,1064.5L1999.0,1063.0L2000.3,1062.9L2002.8,1064.4L2004.0,1064.5L2005.3,1063.5L2009.0,1063.4L2010.3,1062.9L2014.0,1062.6L2016.5,1064.1L2022.8,1062.6L2025.3,1062.2L2027.8,1063.1L2030.3,1061.3L2034.0,1060.7L2036.5,1060.6L2040.3,1058.9L2044.0,1058.4L2049.1,1062.2L2051.6,1062.1L2054.1,1063.9L2055.3,1063.4L2057.8,1063.5L2059.1,1063.0L2061.6,1064.9L2064.1,1064.4L2065.3,1064.6L2067.8,1063.7L2072.8,1064.3L2076.6,1063.7L2079.1,1064.2L2084.1,1062.4L2089.1,1062.6L2092.8,1061.5L2095.3,1061.4L2099.1,1058.9L2100.3,1058.8L2102.8,1057.9L2105.3,1057.8L2107.8,1058.8L2109.1,1059.8L2111.6,1060.6L2114.1,1062.9L2115.3,1062.7L2116.6,1061.8L2117.8,1061.8L2121.6,1062.9L2126.6,1060.3L2129.1,1060.6L2130.3,1060.1L2132.8,1057.5L2136.6,1055.9L2137.8,1054.8L2139.1,1055.1L2144.1,1059.9L2147.8,1062.8L2149.1,1063.2L2151.6,1062.9L2154.1,1064.0L2156.6,1063.6L2159.1,1064.4L2161.6,1063.5L2164.1,1063.5L2165.3,1063.1L2166.6,1063.3L2167.8,1064.2L2169.1,1064.3L2171.6,1063.4L2174.1,1063.9L2177.8,1063.4L2181.6,1061.1L2184.1,1061.7L2187.8,1059.9L2191.6,1059.4L2195.3,1057.1L2196.6,1056.8L2199.1,1058.2L2200.3,1057.8L2201.6,1058.3L2204.1,1061.5L2207.8,1062.8L2210.3,1064.4L2212.8,1063.4L2216.6,1063.8L2219.1,1062.7L2220.3,1062.7L2222.8,1064.4L2227.8,1064.2L2229.1,1063.5L2231.6,1063.9L2232.8,1063.3L2236.6,1064.5L2237.8,1064.2L2239.1,1063.3L2241.6,1063.9L2245.3,1063.5L2246.6,1062.9L2251.6,1064.3L2254.1,1062.9L2255.3,1062.6L2259.1,1064.1L2260.3,1063.9L2262.8,1062.9L2265.3,1063.0L2271.6,1060.8L2274.1,1060.6L2280.3,1056.3L2281.6,1055.5L2282.8,1055.7L2284.1,1056.5L2286.6,1057.1L2292.8,1061.7L2297.8,1063.1L2300.3,1062.6"/>
</g>
<rect x="990.7" y="219.0" width="992.5999999999999" height="636.6" fill="#fff"/>
<clipPath id="ci"><rect x="990.7" y="219.0" width="992.5999999999999" height="636.6"/></clipPath>
<g id="inset-curves" clip-path="url(#ci)"><g transform="scale(1.0,1)" fill="none" stroke-width="9.6" stroke-linejoin="round">
<path stroke="#505050" d="M990.7,849.7L992.7,849.9L999.7,849.6L1006.7,849.5L1013.7,849.1L1015.7,848.9L1017.7,849.2L1021.7,848.7L1023.7,848.9L1025.7,848.5L1027.7,848.7L1030.7,848.2L1034.7,848.0L1036.7,847.3L1040.7,847.8L1043.7,847.2L1045.7,847.1L1048.7,846.3L1051.7,846.3L1058.7,845.2L1064.7,844.2L1070.7,842.9L1072.7,842.6L1074.7,841.7L1081.7,840.1L1088.7,837.7L1095.7,834.6L1100.7,832.3L1107.7,828.1L1114.7,822.4L1120.7,816.5L1127.7,807.3L1134.7,794.8L1139.7,783.4L1145.7,765.0L1152.7,735.1L1157.7,705.7L1161.7,673.5L1165.7,628.5L1169.7,572.8L1170.7,562.5L1171.7,556.3L1172.7,555.5L1173.7,563.1L1174.7,578.6L1181.7,763.2L1183.7,799.4L1185.7,822.7L1186.7,830.2L1188.7,839.4L1189.7,842.3L1190.7,844.0L1193.7,846.9L1197.7,848.2L1199.7,848.3L1201.7,849.1L1208.7,849.1L1212.7,849.7L1214.7,849.3L1216.7,849.8L1218.7,849.6L1223.7,850.1L1230.7,849.9L1233.7,849.9L1235.7,850.4L1242.7,850.0L1245.7,849.9L1247.7,850.4L1254.7,850.0L1257.7,850.1L1258.7,850.4L1265.7,849.9L1271.7,850.3L1276.7,850.1L1279.7,850.5L1281.7,850.2L1288.7,850.2L1295.7,850.5L1297.7,850.2L1300.7,850.7L1307.7,850.4L1314.7,850.4L1321.7,850.2L1328.7,850.4L1335.7,850.4L1340.7,850.5L1342.7,850.2L1348.7,850.6L1350.7,850.3L1354.7,850.6L1356.7,850.5L1358.7,850.7L1365.7,850.4L1369.7,850.2L1372.7,850.4L1376.7,849.9L1378.7,850.5L1381.7,850.1L1385.7,850.4L1392.7,850.4L1399.7,850.3L1406.7,850.2L1413.7,850.1L1415.7,850.2L1417.7,849.7L1419.7,850.3L1421.7,849.9L1428.7,850.1L1432.7,849.7L1437.7,849.8L1438.7,849.6L1440.7,849.8L1442.7,849.5L1445.7,850.0L1448.7,849.4L1450.7,849.8L1457.7,849.3L1460.7,849.2L1462.7,848.7L1467.7,849.1L1474.7,848.6L1478.7,848.6L1480.7,848.2L1486.7,847.8L1488.7,847.4L1495.7,846.9L1498.7,846.7L1500.7,846.1L1505.7,845.5L1507.7,844.8L1511.7,844.5L1518.7,842.4L1521.7,841.8L1528.7,838.7L1535.7,834.3L1537.7,832.8L1543.7,826.5L1550.7,816.3L1557.7,802.7L1561.7,795.6L1563.7,793.1L1565.7,791.7L1566.7,791.5L1567.7,791.8L1568.7,793.8L1570.7,801.6L1575.7,828.7L1578.7,840.3L1580.7,844.6L1581.7,846.0L1584.7,848.5L1586.7,849.3L1593.7,849.9L1598.7,850.1L1600.7,849.8L1607.7,850.4L1611.7,850.0L1613.7,850.3L1620.7,850.3L1627.7,850.1L1629.7,850.4L1633.7,850.1L1636.7,850.5L1643.7,850.3L1650.7,850.2L1657.7,850.2L1664.7,850.5L1667.7,850.4L1669.7,849.8L1676.7,850.4L1683.7,849.9L1686.7,850.4L1693.7,850.1L1700.7,850.1L1706.7,850.0L1708.7,849.7L1715.7,850.1L1718.7,849.5L1720.7,849.7L1722.7,849.5L1724.7,849.9L1731.7,849.4L1733.7,849.3L1735.7,849.6L1742.7,849.0L1744.7,849.3L1751.7,848.7L1758.7,848.4L1765.7,847.8L1772.7,847.2L1779.7,846.3L1783.7,846.4L1790.7,845.1L1795.7,844.0L1796.7,844.1L1803.7,842.3L1810.7,840.2L1817.7,837.1L1821.7,835.2L1828.7,829.6L1835.7,821.4L1842.7,808.4L1847.7,794.0L1853.7,768.6L1860.7,728.9L1863.7,713.1L1865.7,705.7L1866.7,703.2L1867.7,701.7L1868.7,701.7L1869.7,704.6L1870.7,710.3L1872.7,728.5L1878.7,798.3L1880.7,815.8L1882.7,828.4L1884.7,836.8L1886.7,841.9L1888.7,845.2L1890.7,846.9L1894.7,848.4L1898.7,849.0L1902.7,849.1L1904.7,849.5L1910.7,849.5L1912.7,849.9L1914.7,849.7L1918.7,850.1L1920.7,849.9L1925.7,850.3L1930.7,849.7L1932.7,850.1L1938.7,849.9L1940.7,850.2L1947.7,850.0L1950.7,850.4L1957.7,850.1L1964.7,850.3L1971.7,850.5L1977.7,850.3L1979.7,850.0L1981.7,850.6L1982.7,850.5"/>
<path stroke="#FF4040" d="M990.7,815.5L992.7,815.7L999.7,814.8L1000.7,814.9L1002.7,815.5L1005.7,814.9L1007.7,815.2L1010.7,814.5L1011.7,814.6L1012.7,815.2L1016.7,814.0L1020.7,814.4L1027.7,813.0L1028.7,812.7L1031.7,813.1L1034.7,812.7L1037.7,811.3L1040.7,811.6L1042.7,810.9L1043.7,810.9L1047.7,809.5L1050.7,809.4L1054.7,807.7L1059.7,806.8L1061.7,805.3L1063.7,805.6L1065.7,804.3L1067.7,803.9L1074.7,800.5L1078.7,798.2L1080.7,797.7L1082.7,795.8L1083.7,795.3L1084.7,795.1L1090.7,791.0L1092.7,789.0L1099.7,783.2L1101.7,780.5L1104.7,777.9L1111.7,769.2L1118.7,757.4L1121.7,752.3L1124.7,744.9L1129.7,733.5L1136.7,712.0L1142.7,688.5L1147.7,664.2L1154.7,621.6L1161.7,572.1L1167.7,532.8L1169.7,525.0L1170.7,522.5L1171.7,521.3L1172.7,521.4L1173.7,524.4L1174.7,531.4L1176.7,555.2L1183.7,685.3L1187.7,748.3L1190.7,779.8L1192.7,793.5L1194.7,802.8L1196.7,809.0L1197.7,811.1L1201.7,816.1L1202.7,816.9L1203.7,817.2L1205.7,817.0L1212.7,818.6L1213.7,818.7L1214.7,818.5L1216.7,817.7L1218.7,818.9L1220.7,819.1L1222.7,818.5L1224.7,818.7L1226.7,818.6L1228.7,818.9L1230.7,818.7L1232.7,819.4L1238.7,818.9L1242.7,819.4L1243.7,819.2L1245.7,819.7L1247.7,819.2L1249.7,819.1L1255.7,819.6L1257.7,820.4L1258.7,820.3L1260.7,819.5L1263.7,819.7L1265.7,820.4L1267.7,819.2L1270.7,819.6L1272.7,819.3L1274.7,819.8L1275.7,819.5L1280.7,819.6L1282.7,819.0L1284.7,819.4L1286.7,820.2L1288.7,819.7L1289.7,819.9L1291.7,819.5L1296.7,819.5L1297.7,819.3L1300.7,819.9L1306.7,820.0L1308.7,819.0L1313.7,820.3L1314.7,820.4L1317.7,819.0L1321.7,820.0L1322.7,820.0L1323.7,819.4L1324.7,819.4L1325.7,819.8L1326.7,819.9L1332.7,819.7L1333.7,819.4L1335.7,820.0L1337.7,819.6L1339.7,820.0L1340.7,820.0L1344.7,819.0L1347.7,819.5L1349.7,818.8L1351.7,819.6L1357.7,819.7L1359.7,819.4L1363.7,819.7L1365.7,820.2L1367.7,819.0L1368.7,819.0L1370.7,819.8L1371.7,819.9L1373.7,819.2L1375.7,819.5L1381.7,820.0L1383.7,818.9L1385.7,819.3L1388.7,818.7L1392.7,819.0L1395.7,818.5L1398.7,819.3L1399.7,819.3L1400.7,819.0L1402.7,819.4L1404.7,818.6L1406.7,818.8L1409.7,818.8L1411.7,817.9L1412.7,818.0L1413.7,818.7L1414.7,818.9L1416.7,818.2L1420.7,819.1L1421.7,819.1L1423.7,818.0L1424.7,817.9L1426.7,818.1L1433.7,818.1L1436.7,817.3L1439.7,817.1L1443.7,816.6L1445.7,816.8L1446.7,816.3L1448.7,816.8L1450.7,816.0L1451.7,815.9L1453.7,816.2L1460.7,814.7L1467.7,813.9L1469.7,813.5L1471.7,813.4L1472.7,813.1L1477.7,812.5L1480.7,811.0L1483.7,810.9L1486.7,809.4L1489.7,809.2L1491.7,808.3L1493.7,808.0L1494.7,807.3L1496.7,806.9L1499.7,805.2L1501.7,805.2L1505.7,803.7L1508.7,801.5L1511.7,800.7L1513.7,799.3L1515.7,799.2L1517.7,797.4L1520.7,795.7L1522.7,793.8L1523.7,793.5L1527.7,789.8L1529.7,788.9L1532.7,786.1L1534.7,783.7L1538.7,780.4L1542.7,775.7L1544.7,774.3L1546.7,771.4L1548.7,770.1L1551.7,766.2L1553.7,765.0L1555.7,762.6L1559.7,761.2L1561.7,760.0L1563.7,759.7L1564.7,759.2L1565.7,759.5L1567.7,761.6L1570.7,767.9L1577.7,790.7L1583.7,806.9L1587.7,813.2L1588.7,814.3L1594.7,818.1L1597.7,818.8L1600.7,818.6L1602.7,819.1L1603.7,818.9L1606.7,819.5L1610.7,818.9L1611.7,818.9L1612.7,819.3L1616.7,819.4L1617.7,820.0L1618.7,820.2L1619.7,819.5L1620.7,819.1L1622.7,819.8L1628.7,819.2L1632.7,819.0L1634.7,819.8L1636.7,819.1L1637.7,819.2L1639.7,818.7L1641.7,819.5L1644.7,818.9L1646.7,818.9L1647.7,818.4L1648.7,818.7L1649.7,819.6L1655.7,819.1L1657.7,819.4L1661.7,818.9L1663.7,819.4L1665.7,819.6L1667.7,819.1L1672.7,818.8L1674.7,819.2L1677.7,818.5L1679.7,819.1L1681.7,818.7L1687.7,818.5L1688.7,818.8L1692.7,818.1L1699.7,818.7L1702.7,817.7L1704.7,818.0L1708.7,817.4L1710.7,817.6L1716.7,816.8L1718.7,817.0L1721.7,816.4L1723.7,816.8L1724.7,816.7L1725.7,816.2L1726.7,816.2L1727.7,816.5L1734.7,815.2L1737.7,815.4L1742.7,814.0L1749.7,813.2L1756.7,811.6L1758.7,810.3L1760.7,810.7L1761.7,810.2L1762.7,809.3L1767.7,808.2L1771.7,806.4L1773.7,806.2L1774.7,805.9L1779.7,803.4L1781.7,802.8L1786.7,799.7L1788.7,799.0L1790.7,797.4L1792.7,796.5L1794.7,794.7L1796.7,793.4L1798.7,791.3L1799.7,790.9L1800.7,790.8L1802.7,788.1L1804.7,786.8L1808.7,782.1L1811.7,779.4L1814.7,775.0L1820.7,764.8L1823.7,759.5L1826.7,752.6L1828.7,748.9L1835.7,729.3L1842.7,705.8L1849.7,679.7L1853.7,666.2L1857.7,654.9L1859.7,651.0L1861.7,648.7L1862.7,648.1L1863.7,647.9L1864.7,648.2L1865.7,649.8L1867.7,656.3L1869.7,665.9L1876.7,716.3L1883.7,767.4L1888.7,792.2L1892.7,804.4L1894.7,808.5L1899.7,814.3L1901.7,815.7L1903.7,816.4L1905.7,817.8L1907.7,817.8L1908.7,818.1L1910.7,817.9L1913.7,818.3L1915.7,818.1L1918.7,818.8L1919.7,818.9L1921.7,818.3L1924.7,818.2L1927.7,818.4L1928.7,818.7L1930.7,818.4L1932.7,819.2L1935.7,819.2L1936.7,818.9L1937.7,818.9L1938.7,819.3L1939.7,819.4L1941.7,818.9L1945.7,818.6L1949.7,819.6L1951.7,819.2L1953.7,819.5L1958.7,819.4L1960.7,818.7L1964.7,818.9L1965.7,818.8L1967.7,819.1L1970.7,818.7L1971.7,818.2L1972.7,818.3L1975.7,819.0L1977.7,818.9L1979.7,819.7L1981.7,819.0L1982.7,819.0"/>
<path stroke="#0070E0" d="M990.7,706.4L991.7,706.2L996.7,706.8L998.7,706.4L1002.7,707.0L1006.7,706.0L1008.7,706.9L1010.7,705.7L1012.7,706.3L1013.7,706.3L1015.7,705.9L1017.7,706.1L1020.7,705.6L1022.7,706.6L1024.7,705.4L1025.7,705.5L1026.7,706.0L1027.7,706.2L1029.7,705.7L1030.7,705.2L1031.7,705.0L1032.7,705.3L1037.7,704.6L1039.7,704.9L1041.7,704.3L1043.7,704.8L1046.7,704.8L1047.7,704.0L1048.7,703.9L1049.7,704.1L1051.7,703.2L1052.7,703.6L1053.7,703.6L1054.7,702.8L1057.7,702.0L1059.7,702.7L1061.7,702.4L1064.7,701.6L1066.7,700.5L1068.7,701.9L1069.7,702.1L1070.7,701.6L1072.7,699.8L1074.7,698.8L1076.7,698.9L1080.7,696.6L1082.7,696.9L1084.7,696.2L1085.7,696.2L1086.7,695.7L1088.7,693.9L1092.7,692.9L1095.7,691.1L1096.7,690.8L1098.7,689.7L1099.7,689.7L1100.7,689.3L1103.7,686.6L1106.7,685.5L1108.7,682.8L1112.7,680.0L1114.7,677.4L1116.7,676.3L1117.7,675.2L1120.7,670.6L1125.7,664.5L1130.7,654.8L1136.7,639.8L1143.7,614.4L1148.7,590.7L1153.7,558.4L1160.7,495.7L1166.7,434.8L1167.7,427.7L1168.7,422.7L1169.7,419.5L1170.7,418.4L1171.7,421.3L1172.7,428.0L1174.7,450.2L1181.7,570.1L1185.7,630.6L1188.7,662.8L1190.7,677.4L1192.7,687.2L1196.7,698.9L1198.7,702.1L1201.7,704.7L1204.7,705.0L1206.7,706.4L1208.7,706.1L1211.7,707.2L1213.7,707.5L1214.7,708.0L1216.7,708.2L1217.7,708.5L1218.7,708.4L1219.7,707.9L1220.7,707.9L1222.7,708.6L1224.7,707.9L1226.7,708.7L1228.7,708.3L1229.7,708.8L1231.7,707.9L1233.7,709.0L1238.7,709.1L1240.7,709.6L1242.7,708.9L1248.7,708.6L1250.7,709.5L1252.7,708.8L1254.7,708.6L1256.7,709.1L1258.7,708.8L1262.7,709.7L1265.7,708.9L1272.7,710.0L1273.7,710.2L1275.7,709.3L1278.7,709.4L1280.7,709.0L1283.7,709.7L1286.7,709.7L1288.7,709.2L1289.7,709.3L1291.7,710.2L1298.7,709.7L1302.7,709.5L1303.7,709.1L1305.7,709.8L1308.7,709.5L1310.7,710.1L1311.7,710.0L1312.7,709.5L1318.7,709.7L1319.7,710.2L1320.7,710.2L1321.7,709.3L1322.7,709.1L1325.7,710.0L1327.7,709.9L1328.7,710.2L1329.7,710.0L1333.7,708.5L1334.7,708.6L1337.7,710.2L1338.7,710.0L1340.7,709.2L1341.7,709.3L1342.7,710.0L1343.7,710.3L1344.7,709.7L1347.7,709.8L1349.7,710.9L1351.7,710.6L1353.7,709.3L1359.7,710.5L1361.7,710.2L1362.7,710.6L1364.7,709.7L1367.7,709.1L1370.7,709.7L1372.7,710.7L1373.7,710.7L1375.7,709.5L1377.7,709.9L1379.7,709.3L1380.7,709.4L1382.7,710.2L1386.7,710.2L1387.7,709.9L1388.7,709.3L1389.7,709.3L1390.7,710.2L1391.7,710.7L1393.7,709.6L1397.7,709.9L1398.7,710.3L1399.7,710.3L1400.7,709.7L1401.7,709.4L1402.7,710.1L1403.7,710.2L1404.7,709.8L1406.7,710.0L1408.7,708.8L1409.7,708.7L1410.7,709.1L1412.7,708.7L1413.7,709.1L1414.7,709.9L1415.7,710.3L1419.7,709.7L1421.7,710.2L1425.7,709.2L1429.7,710.4L1433.7,709.4L1437.7,709.4L1439.7,709.8L1441.7,709.3L1443.7,709.8L1445.7,708.8L1446.7,708.6L1448.7,709.3L1451.7,709.0L1452.7,708.7L1454.7,709.3L1457.7,708.0L1458.7,708.1L1459.7,708.7L1461.7,708.6L1463.7,709.5L1464.7,709.5L1466.7,709.0L1467.7,709.0L1468.7,708.6L1469.7,707.7L1470.7,707.4L1472.7,708.4L1476.7,707.7L1478.7,708.4L1481.7,707.9L1483.7,708.4L1484.7,708.2L1485.7,707.5L1486.7,707.2L1488.7,707.7L1489.7,707.7L1492.7,706.5L1493.7,706.3L1494.7,706.7L1495.7,706.7L1496.7,706.3L1498.7,706.9L1499.7,706.7L1501.7,705.4L1504.7,705.6L1505.7,705.8L1507.7,705.0L1512.7,704.2L1514.7,703.5L1515.7,702.8L1516.7,702.7L1517.7,703.0L1519.7,701.9L1520.7,701.8L1521.7,702.1L1522.7,701.8L1523.7,700.7L1524.7,700.2L1525.7,700.4L1526.7,699.9L1528.7,698.3L1530.7,697.8L1531.7,697.1L1532.7,695.9L1535.7,694.1L1537.7,692.2L1539.7,691.2L1545.7,684.2L1549.7,678.2L1552.7,671.0L1554.7,668.1L1556.7,663.6L1558.7,660.0L1559.7,657.7L1562.7,653.3L1563.7,652.5L1565.7,651.9L1566.7,652.3L1567.7,653.8L1569.7,659.6L1576.7,688.4L1579.7,697.8L1584.7,704.5L1587.7,706.8L1588.7,707.1L1589.7,707.1L1592.7,708.4L1594.7,707.9L1596.7,708.6L1602.7,707.9L1604.7,708.9L1607.7,708.3L1613.7,708.3L1616.7,708.7L1618.7,707.5L1620.7,708.0L1622.7,707.2L1625.7,707.8L1627.7,707.0L1629.7,706.9L1630.7,707.1L1631.7,706.9L1633.7,705.1L1636.7,704.9L1640.7,703.8L1646.7,703.8L1648.7,703.5L1650.7,704.2L1651.7,705.0L1652.7,705.4L1654.7,704.8L1659.7,707.2L1661.7,707.2L1662.7,707.6L1665.7,708.1L1666.7,708.5L1667.7,709.6L1668.7,710.0L1670.7,708.9L1676.7,709.7L1679.7,709.2L1681.7,708.6L1683.7,709.9L1685.7,709.0L1692.7,709.2L1693.7,709.2L1695.7,708.6L1696.7,708.9L1700.7,708.4L1704.7,708.6L1706.7,708.0L1707.7,708.2L1709.7,707.6L1711.7,707.9L1714.7,707.5L1717.7,707.9L1719.7,707.2L1723.7,708.1L1724.7,708.0L1726.7,707.0L1727.7,707.0L1729.7,707.8L1731.7,707.7L1733.7,708.8L1734.7,708.8L1735.7,708.4L1738.7,708.1L1739.7,708.5L1741.7,708.2L1743.7,709.2L1745.7,708.6L1747.7,708.8L1750.7,708.8L1752.7,708.2L1755.7,708.3L1756.7,707.7L1757.7,707.7L1758.7,708.5L1759.7,708.8L1764.7,707.9L1765.7,707.5L1767.7,707.8L1769.7,707.0L1770.7,707.1L1771.7,707.8L1772.7,707.6L1773.7,706.7L1774.7,706.5L1776.7,708.0L1777.7,707.7L1778.7,706.9L1779.7,706.5L1781.7,706.5L1783.7,706.7L1785.7,705.8L1786.7,705.7L1787.7,706.1L1788.7,705.7L1789.7,704.9L1791.7,704.8L1793.7,704.2L1795.7,705.1L1796.7,704.6L1797.7,704.4L1798.7,704.7L1799.7,704.2L1800.7,703.4L1801.7,703.2L1802.7,703.4L1803.7,703.1L1805.7,701.9L1807.7,702.1L1809.7,700.6L1811.7,701.4L1812.7,701.2L1813.7,700.4L1815.7,699.9L1818.7,697.9L1819.7,697.6L1821.7,696.3L1823.7,695.7L1824.7,695.1L1826.7,693.0L1828.7,692.2L1832.7,687.7L1833.7,686.9L1838.7,679.2L1841.7,673.6L1845.7,662.9L1850.7,643.2L1857.7,602.5L1861.7,579.7L1863.7,571.4L1864.7,569.2L1865.7,568.6L1866.7,569.4L1867.7,571.8L1869.7,580.2L1871.7,591.9L1878.7,646.0L1882.7,670.6L1885.7,684.1L1888.7,693.0L1890.7,697.1L1891.7,698.5L1895.7,701.5L1897.7,703.7L1899.7,704.0L1901.7,705.5L1906.7,705.7L1908.7,705.5L1910.7,706.3L1912.7,705.9L1914.7,707.0L1915.7,707.0L1916.7,706.5L1917.7,706.5L1919.7,707.8L1920.7,707.7L1922.7,706.8L1927.7,706.6L1928.7,707.0L1929.7,707.0L1931.7,705.9L1932.7,705.7L1934.7,706.7L1936.7,706.8L1938.7,707.3L1944.7,705.5L1946.7,705.9L1948.7,705.2L1950.7,705.6L1954.7,705.1L1956.7,703.9L1958.7,704.1L1960.7,703.7L1963.7,704.8L1965.7,703.9L1967.7,704.7L1969.7,704.3L1974.7,705.9L1976.7,705.5L1977.7,705.9L1980.7,705.6L1982.7,706.5"/>
<path stroke="#00AE69" d="M990.7,645.7L992.7,646.4L993.7,645.9L995.7,646.0L997.7,645.7L998.7,646.0L1000.7,645.7L1002.7,646.2L1003.7,646.8L1004.7,646.7L1006.7,645.6L1007.7,645.4L1008.7,645.6L1010.7,644.8L1012.7,645.5L1014.7,645.5L1017.7,644.5L1021.7,645.2L1023.7,644.6L1026.7,644.9L1027.7,645.2L1029.7,644.6L1030.7,644.9L1031.7,644.8L1033.7,643.8L1034.7,643.6L1035.7,644.4L1036.7,644.5L1037.7,644.0L1039.7,644.0L1040.7,643.8L1041.7,642.9L1042.7,642.7L1043.7,643.1L1045.7,642.3L1047.7,642.5L1049.7,642.3L1050.7,642.5L1052.7,642.4L1053.7,642.6L1056.7,641.3L1058.7,641.5L1059.7,640.7L1061.7,640.7L1062.7,639.8L1063.7,639.4L1065.7,640.4L1068.7,639.9L1070.7,638.3L1071.7,638.3L1072.7,638.6L1073.7,638.5L1075.7,637.2L1076.7,636.9L1079.7,637.4L1081.7,635.8L1084.7,635.5L1085.7,635.2L1087.7,633.5L1091.7,632.3L1093.7,630.6L1095.7,630.2L1098.7,628.5L1100.7,626.7L1103.7,625.3L1105.7,624.9L1106.7,624.2L1108.7,621.5L1109.7,621.0L1111.7,618.2L1113.7,617.1L1115.7,614.8L1117.7,613.1L1122.7,605.6L1124.7,602.2L1125.7,601.4L1126.7,599.7L1128.7,594.8L1130.7,591.9L1135.7,579.2L1140.7,562.4L1146.7,535.7L1152.7,498.4L1159.7,436.8L1164.7,389.3L1166.7,374.5L1167.7,369.2L1168.7,366.2L1169.7,365.4L1170.7,367.8L1171.7,373.9L1172.7,384.0L1175.7,432.6L1181.7,548.6L1184.7,590.0L1186.7,609.9L1189.7,628.0L1191.7,635.8L1192.7,637.8L1197.7,644.9L1198.7,645.9L1199.7,645.9L1201.7,645.1L1203.7,645.1L1205.7,646.5L1206.7,646.8L1208.7,646.4L1211.7,646.7L1212.7,646.4L1213.7,646.5L1215.7,647.5L1217.7,647.2L1219.7,648.0L1222.7,648.3L1224.7,647.5L1227.7,647.1L1230.7,647.8L1232.7,648.0L1234.7,647.4L1236.7,648.3L1238.7,647.7L1239.7,647.8L1241.7,648.8L1243.7,648.6L1245.7,648.9L1247.7,647.9L1250.7,648.1L1251.7,648.6L1252.7,649.5L1255.7,648.8L1256.7,648.3L1258.7,649.4L1260.7,648.6L1263.7,649.4L1265.7,648.7L1266.7,649.0L1267.7,649.0L1268.7,648.4L1271.7,647.9L1276.7,649.1L1278.7,648.6L1280.7,648.8L1282.7,647.7L1285.7,648.8L1290.7,649.3L1292.7,648.4L1294.7,648.0L1298.7,649.1L1300.7,649.1L1301.7,650.0L1302.7,650.4L1305.7,648.1L1310.7,649.3L1314.7,648.4L1316.7,649.6L1317.7,649.6L1318.7,649.2L1321.7,649.3L1322.7,649.9L1323.7,649.8L1325.7,648.6L1326.7,648.5L1328.7,649.8L1330.7,648.7L1332.7,648.9L1333.7,649.4L1334.7,649.4L1336.7,648.5L1337.7,648.4L1339.7,649.4L1341.7,648.5L1344.7,649.3L1345.7,649.2L1346.7,648.5L1347.7,648.4L1351.7,649.6L1352.7,649.6L1354.7,648.3L1355.7,648.4L1356.7,649.3L1358.7,648.8L1359.7,649.5L1360.7,649.6L1361.7,649.1L1363.7,649.5L1367.7,649.4L1369.7,648.4L1371.7,649.4L1373.7,649.6L1376.7,649.2L1377.7,648.2L1378.7,647.8L1379.7,649.1L1380.7,649.6L1381.7,648.9L1382.7,648.5L1384.7,648.4L1386.7,648.6L1387.7,648.4L1389.7,649.1L1390.7,649.2L1394.7,648.4L1397.7,649.9L1399.7,649.3L1401.7,649.7L1403.7,648.9L1407.7,648.9L1408.7,648.5L1409.7,648.5L1410.7,649.0L1412.7,648.8L1415.7,650.1L1416.7,649.8L1418.7,648.6L1419.7,648.3L1420.7,648.7L1422.7,648.0L1427.7,649.0L1428.7,649.0L1429.7,648.6L1430.7,648.7L1431.7,649.1L1432.7,649.3L1434.7,648.0L1436.7,648.3L1437.7,648.2L1439.7,648.4L1441.7,648.1L1445.7,648.8L1446.7,649.2L1447.7,649.2L1449.7,648.3L1452.7,648.5L1455.7,647.4L1456.7,648.0L1457.7,648.3L1458.7,648.0L1460.7,647.9L1467.7,646.8L1468.7,646.8L1470.7,647.5L1472.7,646.5L1474.7,647.7L1476.7,646.3L1481.7,646.6L1484.7,645.7L1487.7,645.8L1488.7,645.4L1490.7,645.7L1492.7,645.2L1494.7,645.3L1497.7,644.7L1499.7,644.8L1503.7,643.4L1504.7,643.6L1505.7,643.4L1506.7,642.8L1510.7,642.5L1512.7,641.3L1514.7,639.7L1516.7,640.1L1523.7,636.4L1526.7,635.8L1528.7,634.1L1530.7,632.9L1534.7,629.4L1536.7,626.6L1539.7,623.6L1546.7,611.5L1553.7,596.0L1554.7,593.9L1555.7,592.6L1557.7,588.4L1558.7,587.5L1562.7,585.5L1563.7,586.5L1569.7,608.5L1573.7,626.4L1577.7,637.2L1580.7,642.7L1581.7,643.5L1582.7,643.6L1584.7,644.9L1589.7,646.4L1591.7,647.2L1593.7,647.1L1597.7,648.2L1599.7,647.7L1602.7,648.1L1603.7,647.9L1606.7,648.0L1608.7,647.5L1610.7,648.0L1612.7,647.8L1614.7,648.0L1615.7,647.8L1617.7,648.1L1619.7,647.5L1622.7,647.1L1624.7,647.3L1627.7,646.6L1628.7,646.6L1630.7,645.6L1632.7,645.9L1633.7,645.8L1634.7,645.3L1636.7,645.9L1638.7,644.5L1639.7,644.8L1640.7,644.7L1641.7,644.3L1643.7,644.4L1645.7,643.9L1647.7,644.4L1648.7,644.1L1650.7,644.9L1652.7,645.2L1654.7,646.5L1655.7,646.2L1656.7,645.5L1657.7,645.5L1659.7,647.3L1660.7,647.6L1662.7,647.6L1664.7,646.9L1666.7,648.7L1669.7,648.9L1670.7,648.7L1672.7,647.3L1673.7,647.5L1676.7,649.5L1678.7,649.1L1680.7,649.5L1681.7,649.3L1682.7,648.7L1683.7,648.5L1685.7,648.7L1687.7,649.7L1689.7,648.6L1690.7,648.9L1692.7,648.5L1694.7,649.1L1697.7,648.9L1699.7,649.4L1702.7,648.2L1705.7,648.1L1709.7,649.0L1713.7,647.9L1714.7,648.0L1715.7,648.6L1716.7,648.5L1717.7,647.9L1718.7,648.1L1721.7,649.6L1722.7,649.6L1723.7,648.8L1724.7,648.6L1725.7,648.7L1726.7,648.4L1728.7,648.9L1730.7,648.0L1732.7,648.2L1733.7,648.0L1734.7,648.2L1735.7,648.7L1737.7,647.6L1738.7,647.8L1740.7,646.9L1742.7,647.7L1744.7,647.6L1745.7,647.8L1748.7,647.1L1750.7,648.1L1753.7,646.9L1754.7,647.0L1755.7,647.7L1759.7,647.2L1761.7,647.5L1763.7,646.3L1765.7,646.2L1767.7,646.7L1768.7,646.5L1771.7,645.1L1773.7,645.0L1774.7,644.5L1775.7,644.3L1776.7,644.6L1778.7,644.3L1779.7,644.6L1781.7,644.5L1782.7,644.7L1784.7,644.0L1786.7,644.4L1789.7,643.1L1791.7,643.3L1796.7,641.5L1798.7,641.8L1801.7,640.4L1803.7,639.7L1807.7,638.1L1809.7,638.1L1813.7,635.6L1814.7,635.3L1816.7,633.7L1817.7,633.3L1818.7,632.6L1820.7,630.5L1822.7,629.1L1823.7,628.0L1825.7,627.4L1829.7,622.8L1831.7,619.5L1832.7,617.3L1833.7,615.9L1834.7,615.2L1840.7,600.8L1845.7,584.7L1852.7,549.7L1857.7,519.8L1860.7,507.3L1861.7,504.9L1862.7,503.4L1863.7,502.6L1864.7,502.9L1865.7,504.6L1867.7,512.7L1871.7,538.9L1878.7,592.6L1882.7,616.1L1884.7,623.8L1887.7,632.2L1890.7,637.7L1894.7,642.6L1896.7,644.5L1897.7,644.7L1898.7,644.6L1900.7,645.2L1902.7,645.0L1904.7,646.0L1905.7,645.6L1907.7,646.1L1908.7,645.9L1910.7,646.3L1911.7,646.0L1913.7,647.0L1916.7,646.9L1918.7,646.3L1920.7,647.4L1921.7,647.1L1922.7,646.4L1923.7,646.0L1925.7,646.6L1927.7,645.9L1929.7,645.6L1931.7,646.3L1934.7,646.0L1936.7,646.5L1939.7,646.0L1941.7,645.4L1943.7,645.8L1945.7,645.4L1946.7,645.6L1947.7,645.1L1948.7,644.1L1950.7,644.7L1951.7,644.1L1953.7,644.5L1955.7,644.0L1958.7,644.8L1960.7,644.2L1962.7,644.2L1963.7,644.5L1964.7,645.5L1965.7,645.9L1968.7,645.0L1970.7,645.6L1972.7,645.4L1973.7,645.6L1974.7,646.6L1975.7,647.1L1977.7,646.8L1979.7,647.6L1980.7,647.6L1982.7,647.0"/>
<path stroke="#C57AE5" d="M990.7,589.7L994.7,589.7L998.7,589.1L1001.7,589.5L1004.7,589.1L1009.7,589.3L1011.7,588.8L1013.7,589.1L1015.7,588.9L1017.7,589.2L1019.7,588.7L1021.7,588.9L1022.7,588.5L1025.7,588.6L1027.7,588.1L1030.7,588.3L1033.7,587.9L1034.7,588.0L1039.7,587.2L1046.7,586.6L1053.7,585.3L1055.7,585.3L1058.7,584.2L1060.7,584.3L1062.7,583.4L1064.7,583.3L1068.7,581.8L1070.7,581.9L1074.7,580.2L1076.7,580.3L1078.7,579.6L1080.7,578.5L1083.7,577.7L1088.7,575.6L1090.7,574.4L1092.7,573.8L1094.7,572.3L1096.7,571.5L1099.7,569.1L1102.7,567.9L1105.7,565.0L1109.7,562.1L1116.7,555.0L1122.7,546.6L1127.7,537.9L1131.7,529.6L1136.7,516.5L1141.7,499.8L1147.7,472.1L1153.7,434.5L1160.7,374.1L1167.7,307.4L1168.7,300.7L1169.7,295.8L1170.7,292.9L1171.7,291.7L1172.7,294.4L1173.7,302.9L1175.7,334.0L1182.7,487.6L1185.7,533.6L1187.7,553.8L1188.7,561.6L1189.7,567.4L1191.7,575.0L1193.7,580.1L1195.7,583.0L1198.7,585.9L1201.7,586.6L1203.7,587.7L1209.7,588.1L1215.7,589.6L1222.7,589.7L1225.7,590.3L1228.7,590.0L1231.7,590.7L1234.7,590.3L1241.7,590.8L1243.7,590.5L1247.7,590.8L1252.7,590.7L1255.7,591.3L1257.7,591.0L1259.7,591.2L1261.7,590.7L1267.7,591.2L1270.7,591.3L1272.7,590.8L1274.7,591.0L1275.7,590.7L1277.7,591.4L1278.7,591.4L1279.7,590.9L1280.7,590.8L1282.7,591.5L1289.7,590.9L1293.7,591.4L1294.7,591.2L1296.7,591.5L1300.7,591.1L1304.7,591.3L1306.7,590.8L1311.7,591.5L1314.7,591.1L1316.7,591.5L1320.7,591.0L1322.7,591.6L1323.7,591.6L1325.7,590.9L1332.7,591.3L1335.7,591.4L1342.7,591.1L1345.7,591.7L1350.7,591.1L1353.7,591.7L1355.7,591.1L1358.7,591.1L1362.7,591.4L1369.7,591.1L1372.7,591.1L1374.7,591.6L1377.7,591.7L1380.7,591.1L1385.7,591.3L1387.7,591.0L1390.7,591.6L1394.7,591.2L1396.7,591.5L1403.7,591.1L1405.7,591.3L1408.7,590.8L1411.7,590.8L1413.7,591.2L1415.7,590.9L1419.7,591.4L1421.7,591.1L1422.7,591.3L1424.7,590.7L1428.7,591.1L1430.7,590.7L1437.7,591.1L1442.7,590.5L1444.7,590.7L1451.7,590.4L1456.7,590.2L1458.7,590.4L1463.7,590.2L1465.7,590.6L1466.7,590.5L1468.7,590.0L1473.7,589.5L1475.7,589.8L1479.7,589.0L1482.7,589.3L1485.7,589.0L1487.7,588.5L1494.7,588.3L1496.7,587.9L1498.7,587.9L1505.7,586.8L1508.7,586.1L1513.7,584.5L1515.7,584.6L1517.7,583.8L1519.7,582.6L1521.7,582.6L1522.7,582.4L1529.7,578.5L1533.7,575.3L1535.7,574.0L1540.7,568.6L1543.7,563.9L1545.7,561.4L1552.7,548.4L1556.7,541.3L1557.7,540.3L1560.7,538.7L1561.7,538.6L1562.7,539.3L1563.7,541.1L1570.7,566.2L1573.7,576.2L1576.7,583.4L1579.7,587.0L1582.7,589.1L1585.7,590.1L1588.7,589.8L1590.7,590.7L1592.7,590.5L1595.7,591.3L1597.7,590.9L1602.7,591.3L1604.7,590.6L1607.7,591.2L1609.7,591.2L1611.7,591.6L1614.7,591.1L1620.7,591.4L1627.7,590.9L1631.7,591.2L1633.7,590.9L1635.7,591.7L1640.7,591.1L1647.7,591.1L1651.7,590.9L1653.7,591.3L1655.7,591.0L1659.7,591.5L1661.7,591.0L1665.7,591.3L1666.7,591.1L1668.7,591.4L1669.7,591.0L1676.7,591.4L1678.7,591.1L1682.7,591.0L1684.7,591.4L1691.7,591.2L1698.7,591.0L1705.7,590.8L1712.7,591.1L1715.7,591.0L1717.7,591.2L1719.7,590.6L1726.7,590.8L1728.7,590.8L1735.7,590.3L1740.7,590.6L1743.7,590.2L1744.7,589.8L1747.7,590.1L1750.7,589.4L1755.7,589.7L1760.7,589.0L1762.7,589.2L1768.7,588.3L1772.7,588.2L1778.7,587.1L1785.7,586.4L1788.7,586.1L1790.7,585.3L1792.7,585.5L1794.7,584.7L1797.7,584.5L1800.7,583.2L1803.7,583.1L1805.7,581.9L1808.7,581.2L1811.7,579.2L1816.7,577.2L1821.7,574.0L1824.7,571.3L1825.7,570.8L1827.7,568.6L1834.7,558.2L1837.7,552.6L1842.7,538.8L1847.7,519.0L1854.7,479.8L1858.7,457.6L1860.7,449.8L1861.7,447.6L1862.7,446.6L1863.7,446.6L1864.7,448.1L1865.7,451.3L1868.7,469.0L1875.7,526.2L1879.7,553.5L1883.7,571.5L1885.7,577.1L1887.7,581.1L1890.7,584.7L1891.7,585.5L1894.7,587.4L1900.7,589.0L1902.7,588.8L1903.7,589.0L1904.7,589.6L1905.7,589.8L1907.7,589.6L1911.7,590.1L1916.7,589.8L1922.7,590.3L1923.7,590.0L1926.7,590.6L1932.7,590.4L1938.7,590.7L1940.7,591.2L1942.7,590.8L1948.7,590.7L1951.7,591.3L1954.7,590.9L1957.7,590.8L1961.7,591.0L1963.7,590.8L1969.7,591.2L1970.7,590.8L1974.7,591.1L1975.7,591.4L1976.7,591.4L1978.7,590.9L1982.7,591.1"/>
<path stroke="#DE9B00" d="M990.7,525.1L993.7,525.3L994.7,525.1L995.7,524.5L996.7,524.6L997.7,525.3L998.7,525.3L999.7,524.8L1002.7,524.4L1005.7,524.4L1007.7,525.0L1010.7,524.5L1011.7,524.7L1012.7,524.6L1013.7,524.1L1015.7,524.1L1016.7,523.9L1018.7,524.3L1021.7,523.2L1022.7,523.3L1023.7,523.8L1024.7,523.8L1026.7,523.3L1029.7,523.4L1031.7,522.7L1032.7,523.0L1033.7,522.9L1034.7,522.4L1037.7,522.5L1039.7,522.1L1041.7,522.2L1044.7,521.8L1045.7,521.4L1046.7,520.6L1047.7,520.2L1049.7,521.6L1051.7,520.5L1055.7,519.4L1057.7,519.9L1064.7,517.4L1066.7,517.5L1067.7,517.3L1071.7,515.6L1073.7,514.1L1075.7,513.9L1080.7,512.4L1082.7,511.3L1083.7,511.3L1085.7,510.1L1086.7,509.9L1089.7,508.0L1090.7,507.7L1096.7,504.0L1098.7,502.2L1100.7,501.4L1103.7,498.9L1105.7,497.6L1107.7,495.4L1109.7,493.9L1111.7,491.0L1113.7,488.9L1115.7,486.0L1117.7,484.5L1124.7,473.4L1128.7,464.8L1130.7,460.9L1137.7,441.8L1144.7,415.5L1151.7,379.1L1155.7,353.0L1161.7,304.6L1168.7,246.1L1170.7,235.0L1171.7,231.6L1172.7,229.2L1173.7,228.2L1174.7,230.7L1175.7,237.1L1177.7,259.7L1184.7,385.0L1188.7,446.2L1191.7,477.7L1194.7,498.0L1195.7,502.5L1199.7,514.2L1200.7,515.9L1202.7,517.3L1204.7,520.1L1206.7,521.8L1207.7,522.1L1208.7,521.8L1210.7,522.7L1211.7,522.6L1212.7,522.9L1214.7,524.0L1215.7,524.1L1217.7,523.9L1219.7,524.9L1222.7,525.6L1223.7,525.4L1227.7,525.8L1229.7,525.3L1231.7,526.4L1232.7,526.0L1234.7,525.9L1235.7,525.4L1236.7,525.6L1237.7,526.5L1240.7,527.0L1241.7,526.6L1245.7,527.1L1246.7,526.9L1248.7,527.7L1249.7,527.7L1250.7,527.2L1252.7,527.6L1254.7,526.8L1255.7,527.1L1258.7,526.8L1260.7,527.2L1261.7,527.0L1264.7,528.0L1265.7,527.7L1266.7,527.8L1267.7,528.3L1270.7,528.1L1272.7,527.4L1273.7,526.7L1274.7,526.6L1276.7,528.2L1279.7,528.5L1281.7,527.8L1283.7,527.9L1285.7,527.4L1287.7,527.6L1288.7,528.2L1289.7,528.5L1291.7,527.8L1295.7,528.0L1296.7,527.8L1297.7,528.1L1298.7,528.8L1299.7,528.7L1300.7,528.1L1301.7,527.9L1305.7,528.1L1309.7,528.1L1310.7,528.8L1311.7,529.0L1312.7,528.4L1313.7,528.3L1314.7,528.5L1318.7,527.6L1320.7,528.3L1322.7,527.7L1323.7,528.0L1324.7,528.7L1326.7,528.8L1328.7,528.4L1329.7,529.0L1330.7,528.9L1331.7,528.4L1333.7,528.3L1334.7,528.6L1336.7,527.9L1338.7,528.2L1340.7,527.7L1343.7,528.5L1350.7,528.1L1351.7,528.3L1353.7,528.0L1354.7,528.4L1355.7,528.4L1356.7,528.0L1357.7,528.0L1359.7,529.0L1361.7,528.5L1362.7,528.5L1364.7,529.0L1366.7,528.7L1367.7,528.9L1368.7,528.7L1369.7,528.1L1370.7,528.0L1371.7,528.5L1372.7,528.8L1377.7,528.3L1379.7,527.9L1381.7,528.3L1385.7,528.4L1387.7,527.9L1388.7,529.1L1389.7,529.2L1390.7,528.1L1391.7,528.3L1392.7,529.0L1393.7,528.7L1394.7,528.1L1396.7,528.7L1398.7,528.3L1400.7,528.8L1406.7,528.1L1407.7,528.3L1408.7,528.9L1409.7,528.8L1412.7,528.2L1415.7,528.9L1421.7,527.8L1422.7,527.9L1423.7,528.4L1424.7,528.4L1425.7,528.0L1426.7,527.9L1429.7,528.7L1433.7,527.9L1435.7,528.4L1437.7,527.9L1439.7,528.6L1443.7,527.9L1444.7,527.1L1445.7,526.9L1447.7,528.2L1449.7,527.7L1450.7,527.9L1452.7,527.8L1453.7,528.1L1454.7,527.6L1456.7,528.0L1460.7,527.8L1461.7,528.0L1462.7,527.4L1463.7,527.2L1464.7,528.1L1465.7,528.5L1469.7,527.0L1471.7,527.0L1473.7,526.4L1474.7,526.4L1476.7,527.1L1478.7,526.6L1479.7,526.0L1480.7,526.4L1481.7,527.1L1483.7,526.9L1484.7,527.3L1485.7,527.3L1487.7,526.6L1490.7,526.1L1491.7,525.3L1492.7,525.1L1493.7,525.7L1494.7,525.6L1501.7,524.8L1502.7,524.4L1507.7,523.8L1509.7,523.1L1511.7,523.2L1514.7,521.6L1516.7,521.4L1517.7,521.6L1518.7,521.4L1519.7,520.4L1520.7,519.8L1522.7,520.3L1529.7,517.1L1531.7,515.0L1533.7,514.5L1539.7,509.5L1540.7,508.2L1542.7,506.5L1545.7,502.6L1549.7,494.9L1551.7,492.2L1558.7,476.8L1560.7,472.3L1564.7,467.9L1565.7,467.1L1566.7,466.8L1567.7,467.7L1569.7,473.1L1576.7,503.2L1580.7,516.0L1582.7,520.3L1583.7,521.7L1587.7,525.5L1588.7,526.0L1589.7,526.2L1591.7,526.0L1594.7,526.4L1596.7,527.3L1598.7,527.0L1599.7,527.2L1600.7,527.1L1602.7,526.3L1603.7,526.4L1605.7,527.6L1606.7,527.7L1608.7,526.6L1613.7,527.1L1614.7,526.9L1616.7,525.5L1617.7,525.3L1619.7,525.8L1620.7,525.8L1621.7,525.3L1622.7,524.5L1623.7,524.0L1625.7,523.9L1626.7,524.2L1627.7,524.0L1629.7,522.9L1631.7,522.4L1633.7,521.4L1636.7,520.3L1638.7,520.0L1640.7,518.5L1643.7,517.8L1645.7,518.4L1647.7,518.4L1650.7,520.1L1652.7,520.4L1654.7,522.1L1658.7,524.7L1663.7,526.5L1664.7,527.1L1666.7,527.2L1667.7,527.7L1668.7,527.7L1670.7,527.0L1672.7,527.3L1674.7,528.3L1676.7,528.8L1678.7,528.1L1682.7,527.9L1683.7,527.6L1684.7,527.7L1686.7,528.7L1687.7,528.6L1689.7,527.8L1693.7,527.6L1694.7,528.0L1698.7,527.2L1700.7,527.8L1703.7,527.3L1704.7,526.6L1706.7,526.2L1707.7,526.3L1708.7,526.1L1709.7,525.3L1710.7,525.1L1711.7,525.5L1714.7,525.1L1718.7,525.1L1720.7,524.6L1722.7,525.0L1724.7,524.6L1725.7,524.2L1727.7,524.7L1728.7,524.4L1729.7,524.5L1731.7,525.8L1733.7,526.1L1735.7,525.8L1737.7,526.8L1738.7,526.9L1740.7,526.6L1742.7,527.2L1745.7,527.0L1746.7,527.2L1747.7,527.8L1748.7,527.9L1749.7,527.7L1752.7,527.8L1753.7,528.0L1755.7,527.2L1758.7,527.6L1759.7,527.2L1760.7,526.4L1761.7,526.3L1762.7,526.8L1764.7,526.7L1765.7,526.9L1767.7,525.9L1770.7,525.7L1771.7,526.1L1772.7,526.2L1774.7,525.6L1776.7,525.8L1780.7,524.9L1782.7,525.4L1786.7,524.2L1789.7,524.6L1791.7,523.7L1795.7,523.2L1797.7,522.2L1798.7,522.2L1799.7,522.5L1800.7,522.3L1804.7,520.7L1811.7,518.9L1813.7,517.5L1814.7,517.4L1816.7,515.8L1817.7,515.8L1818.7,516.2L1819.7,515.8L1821.7,514.1L1823.7,511.9L1824.7,511.7L1826.7,510.3L1827.7,509.9L1831.7,505.7L1835.7,500.5L1838.7,494.5L1840.7,491.7L1845.7,478.3L1850.7,459.3L1857.7,420.3L1863.7,387.8L1864.7,384.3L1865.7,382.3L1866.7,381.8L1867.7,382.6L1868.7,384.7L1869.7,387.9L1871.7,398.2L1878.7,455.6L1882.7,484.9L1885.7,500.7L1888.7,510.9L1889.7,513.5L1892.7,518.6L1893.7,519.8L1895.7,521.1L1897.7,523.4L1899.7,523.3L1901.7,525.0L1902.7,525.2L1904.7,524.6L1905.7,524.8L1908.7,526.4L1909.7,526.3L1910.7,525.6L1911.7,525.7L1912.7,526.1L1915.7,525.7L1916.7,525.9L1917.7,526.4L1919.7,525.7L1921.7,526.6L1923.7,525.9L1925.7,526.8L1928.7,526.3L1929.7,526.4L1930.7,526.9L1932.7,526.3L1939.7,526.0L1942.7,524.8L1945.7,525.2L1947.7,524.4L1949.7,524.4L1950.7,523.7L1951.7,523.6L1952.7,524.0L1955.7,523.1L1957.7,523.4L1959.7,522.6L1961.7,522.5L1963.7,521.9L1965.7,522.7L1967.7,521.3L1968.7,520.9L1970.7,521.1L1972.7,520.6L1973.7,520.8L1975.7,522.0L1976.7,521.9L1978.7,520.6L1982.7,522.0"/>
</g></g>
<g stroke="#000" stroke-width="4.5">
<line x1="1004.0" y1="855.6" x2="1004.0" y2="870.8"/>
<line x1="1133.0" y1="855.6" x2="1133.0" y2="870.8"/>
<line x1="1262.0" y1="855.6" x2="1262.0" y2="870.8"/>
<line x1="1391.0" y1="855.6" x2="1391.0" y2="870.8"/>
<line x1="1520.0" y1="855.6" x2="1520.0" y2="870.8"/>
<line x1="1649.0" y1="855.6" x2="1649.0" y2="870.8"/>
<line x1="1778.0" y1="855.6" x2="1778.0" y2="870.8"/>
<line x1="1907.0" y1="855.6" x2="1907.0" y2="870.8"/>
<line x1="1068.5" y1="855.6" x2="1068.5" y2="863.8"/>
<line x1="1197.5" y1="855.6" x2="1197.5" y2="863.8"/>
<line x1="1326.5" y1="855.6" x2="1326.5" y2="863.8"/>
<line x1="1455.5" y1="855.6" x2="1455.5" y2="863.8"/>
<line x1="1584.5" y1="855.6" x2="1584.5" y2="863.8"/>
<line x1="1713.5" y1="855.6" x2="1713.5" y2="863.8"/>
<line x1="1842.5" y1="855.6" x2="1842.5" y2="863.8"/>
<line x1="1971.5" y1="855.6" x2="1971.5" y2="863.8"/>
</g>
<rect x="990.7" y="219.0" width="992.5999999999999" height="636.6" fill="none" stroke="#000" stroke-width="4.6"/>
<rect x="186.3" y="188.6" width="2118.8999999999996" height="1705.1000000000001" fill="none" stroke="#000" stroke-width="12"/>
<g stroke="#000" stroke-width="11.5">
<line x1="421.7" y1="1893.7" x2="421.7" y2="1928"/>
<line x1="892.6" y1="1893.7" x2="892.6" y2="1928"/>
<line x1="1363.5" y1="1893.7" x2="1363.5" y2="1928"/>
<line x1="1834.3" y1="1893.7" x2="1834.3" y2="1928"/>
<line x1="2305.2" y1="1893.7" x2="2305.2" y2="1928"/>
<line x1="186.3" y1="1893.7" x2="186.3" y2="1910"/>
<line x1="657.2" y1="1893.7" x2="657.2" y2="1910"/>
<line x1="1128.0" y1="1893.7" x2="1128.0" y2="1910"/>
<line x1="1598.9" y1="1893.7" x2="1598.9" y2="1910"/>
<line x1="2069.8" y1="1893.7" x2="2069.8" y2="1910"/>
</g>
<g id="legend">
<rect x="188.0" y="131" width="351.9" height="51" fill="#505050"/>
<rect x="539.4" y="131" width="351.9" height="51" fill="#FF4040"/>
<rect x="890.9" y="131" width="351.9" height="51" fill="#0070E0"/>
<rect x="1242.3" y="131" width="351.9" height="51" fill="#00AE69"/>
<rect x="1593.7" y="131" width="351.9" height="51" fill="#C57AE5"/>
<rect x="1945.2" y="131" width="351.9" height="51" fill="#DE9B00"/>
<rect x="188" y="131" width="2110" height="3" fill="#000" opacity="0.62"/>
<rect x="188" y="178" width="2110" height="2.4" fill="#000" opacity="0.3"/>
<rect x="187.7" y="180.2" width="2111.3" height="3.2" fill="#000"/>
<rect x="187.7" y="129" width="2111.3" height="2.2" fill="#000"/>
<rect x="187.7" y="129" width="2.2" height="54" fill="#000"/>
<rect x="2294.2" y="129" width="4.8" height="54" fill="#000"/>
<g stroke="#000" stroke-width="4">
<line x1="365.4" y1="109.7" x2="365.4" y2="130"/>
<line x1="716.6" y1="109.7" x2="716.6" y2="130"/>
<line x1="1067.7" y1="109.7" x2="1067.7" y2="130"/>
<line x1="1418.9" y1="109.7" x2="1418.9" y2="130"/>
<line x1="1770.0" y1="109.7" x2="1770.0" y2="130"/>
<line x1="2121.2" y1="109.7" x2="2121.2" y2="130"/>
</g></g>
<g id="arrow" stroke="#000" stroke-width="7" fill="none">
<line x1="614.2" y1="417.3" x2="659" y2="385.2"/>
<line x1="678.9" y1="373.3" x2="691.8" y2="368.3"/>
<line x1="711" y1="359" x2="761.6" y2="341.5"/>
<line x1="784" y1="336.9" x2="798" y2="334"/>
<line x1="818.2" y1="332.6" x2="870.7" y2="328.6"/>
</g>
<polygon points="880.7,311.7 876.7,340.5 938.2,333.6" fill="#000"/>
<g font-family="Liberation Sans, Arial, Helvetica, sans-serif" font-weight="bold" fill="#000">
<text x="364.7" y="93" font-size="65" text-anchor="middle">ZIF-8</text>
<text x="716.1" y="93" font-size="65" text-anchor="middle">ZIF-8-H</text>
<text x="1067.6" y="93" font-size="65" text-anchor="middle">ZIF-67</text>
<text x="1419.0" y="93" font-size="65" text-anchor="middle">ZIF-67-H</text>
<text x="1770.5" y="93" font-size="65" text-anchor="middle">ZC-ZIF</text>
<text x="2121.9" y="93" font-size="65" text-anchor="middle">ZC-ZIF-H</text>
<text x="421.7" y="2013.6" font-size="81" text-anchor="middle">10</text>
<text x="892.6" y="2013.6" font-size="81" text-anchor="middle">20</text>
<text x="1363.5" y="2013.6" font-size="81" text-anchor="middle">30</text>
<text x="1834.3" y="2013.6" font-size="81" text-anchor="middle">40</text>
<text x="2305.2" y="2013.6" font-size="81" text-anchor="middle">50</text>
<text x="1246" y="2123.5" font-size="91" text-anchor="middle">°2θ</text>
<text transform="translate(114.8,1040.2) rotate(-90)" font-size="89" text-anchor="middle" textLength="600" lengthAdjust="spacing">Intensity (a.u.)</text>
<text x="1004.0" y="917" font-size="50" text-anchor="middle">6</text>
<text x="1133.0" y="917" font-size="50" text-anchor="middle">7</text>
<text x="1262.0" y="917" font-size="50" text-anchor="middle">8</text>
<text x="1391.0" y="917" font-size="50" text-anchor="middle">9</text>
<text x="1520.0" y="917" font-size="50" text-anchor="middle">10</text>
<text x="1649.0" y="917" font-size="50" text-anchor="middle">11</text>
<text x="1778.0" y="917" font-size="50" text-anchor="middle">12</text>
<text x="1907.0" y="917" font-size="50" text-anchor="middle">13</text>
<text x="1486" y="980" font-size="53" text-anchor="middle">°2θ</text>
<text transform="translate(957,538.3) rotate(-90)" font-size="52" text-anchor="middle">Intensity (a.u.)</text>
</g>
</svg>
</body></html>
